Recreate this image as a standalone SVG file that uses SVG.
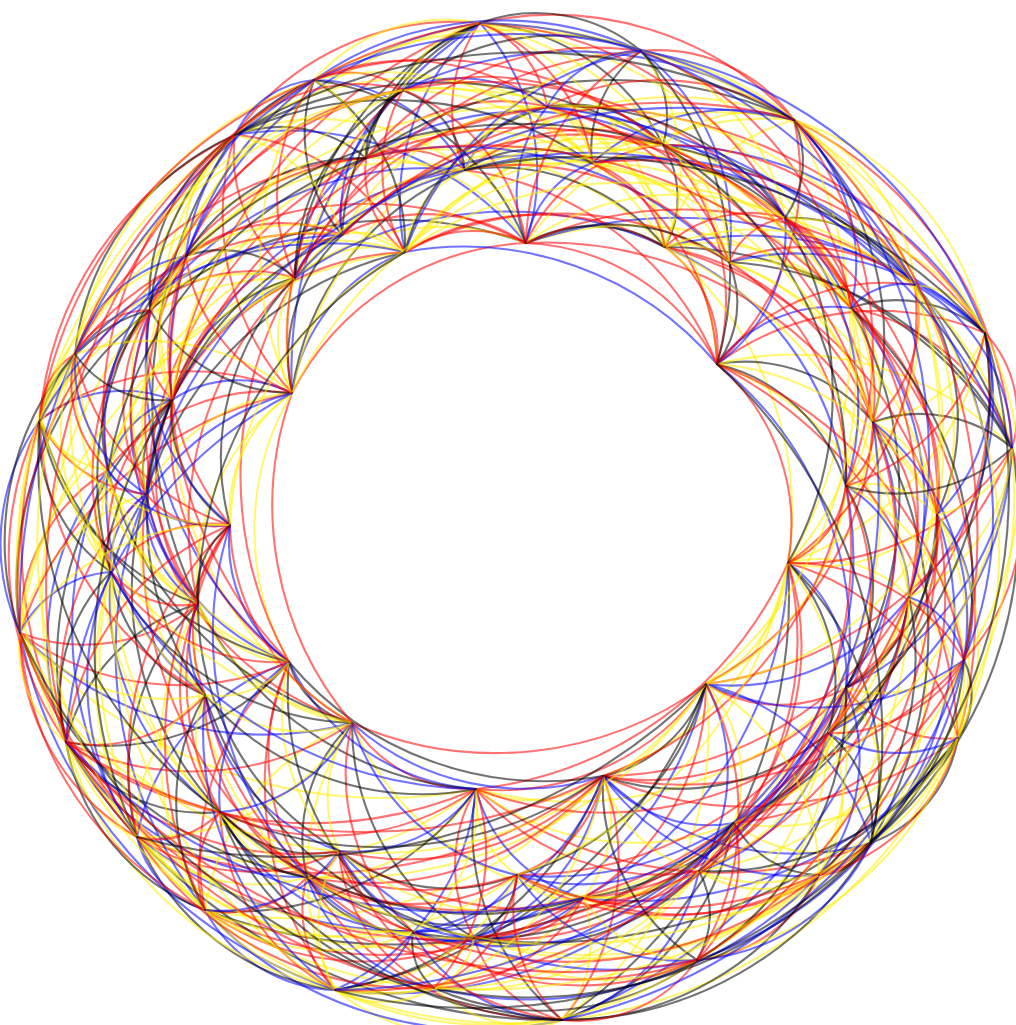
<svg xmlns="http://www.w3.org/2000/svg" width="1016" height="1025" viewBox="0 0 1016 1025">
<style>
.e path{fill:none;stroke-width:2.1;stroke-opacity:.55;vector-effect:non-scaling-stroke}
.y{stroke:#ffee00;stroke-width:2.6}.r{stroke:#ff0000}.b{stroke:#0000ff}.k{stroke:#000000}
.n circle{fill:#000;fill-opacity:.45}
</style>
<rect width="1016" height="1025" fill="#fff"/>
<g id="connectors" class="e">
<path class="y" transform="matrix(121 34 -34 121 788 563)" d="M0 0A1 1 0 0 1 1 0"/>
<path class="r" transform="matrix(170 175 -175 170 788 563)" d="M0 0A1 1 0 0 1 1 0"/>
<path class="b" transform="matrix(58 125 -125 58 788 563)" d="M0 0A1 1 0 0 1 1 0"/>
<path class="y" transform="matrix(-82 121 -121 -82 788 563)" d="M0 0A1 1 0 0 1 1 0"/>
<path class="k" transform="matrix(83 280 -280 83 788 563)" d="M0 0A1 1 0 0 1 1 0"/>
<path class="r" transform="matrix(-54 260 -260 -54 788 563)" d="M0 0A1 1 0 0 1 1 0"/>
<path class="y" transform="matrix(-185 213 -213 -185 788 563)" d="M0 0A1 1 0 0 1 1 0"/>
<path class="b" transform="matrix(-205 335 -335 -205 788 563)" d="M0 0A1 1 0 0 1 1 0"/>
<path class="r" transform="matrix(-312 226 -226 -312 788 563)" d="M0 0A1 1 0 0 1 1 0"/>
<path class="k" transform="matrix(-226 457 -457 -226 788 563)" d="M0 0A1 1 0 0 1 1 0"/>
<path class="y" transform="matrix(49 141 -141 49 909 597)" d="M0 0A1 1 0 0 1 1 0"/>
<path class="r" transform="matrix(-63 91 -91 -63 909 597)" d="M0 0A1 1 0 0 1 1 0"/>
<path class="b" transform="matrix(-203 87 -87 -203 909 597)" d="M0 0A1 1 0 0 1 1 0"/>
<path class="y" transform="matrix(-38 246 -246 -38 909 597)" d="M0 0A1 1 0 0 1 1 0"/>
<path class="k" transform="matrix(-175 226 -226 -175 909 597)" d="M0 0A1 1 0 0 1 1 0"/>
<path class="r" transform="matrix(-306 179 -179 -306 909 597)" d="M0 0A1 1 0 0 1 1 0"/>
<path class="y" transform="matrix(-326 301 -301 -326 909 597)" d="M0 0A1 1 0 0 1 1 0"/>
<path class="b" transform="matrix(-347 423 -423 -347 909 597)" d="M0 0A1 1 0 0 1 1 0"/>
<path class="r" transform="matrix(-112 -50 50 -112 958 738)" d="M0 0A1 1 0 0 1 1 0"/>
<path class="k" transform="matrix(-87 105 -105 -87 958 738)" d="M0 0A1 1 0 0 1 1 0"/>
<path class="y" transform="matrix(-224 85 -85 -224 958 738)" d="M0 0A1 1 0 0 1 1 0"/>
<path class="r" transform="matrix(-355 38 -38 -355 958 738)" d="M0 0A1 1 0 0 1 1 0"/>
<path class="b" transform="matrix(-375 160 -160 -375 958 738)" d="M0 0A1 1 0 0 1 1 0"/>
<path class="y" transform="matrix(-396 282 -282 -396 958 738)" d="M0 0A1 1 0 0 1 1 0"/>
<path class="k" transform="matrix(-484 200 -200 -484 958 738)" d="M0 0A1 1 0 0 1 1 0"/>
<path class="r" transform="matrix(-140 -4 4 -140 846 688)" d="M0 0A1 1 0 0 1 1 0"/>
<path class="y" transform="matrix(25 155 -155 25 846 688)" d="M0 0A1 1 0 0 1 1 0"/>
<path class="b" transform="matrix(-112 135 -135 -112 846 688)" d="M0 0A1 1 0 0 1 1 0"/>
<path class="r" transform="matrix(-243 88 -88 -243 846 688)" d="M0 0A1 1 0 0 1 1 0"/>
<path class="k" transform="matrix(-263 210 -210 -263 846 688)" d="M0 0A1 1 0 0 1 1 0"/>
<path class="y" transform="matrix(-370 101 -101 -370 846 688)" d="M0 0A1 1 0 0 1 1 0"/>
<path class="r" transform="matrix(-372 250 -250 -372 846 688)" d="M0 0A1 1 0 0 1 1 0"/>
<path class="b" transform="matrix(165 159 -159 165 706 684)" d="M0 0A1 1 0 0 1 1 0"/>
<path class="y" transform="matrix(28 139 -139 28 706 684)" d="M0 0A1 1 0 0 1 1 0"/>
<path class="k" transform="matrix(-103 92 -92 -103 706 684)" d="M0 0A1 1 0 0 1 1 0"/>
<path class="r" transform="matrix(-123 214 -214 -123 706 684)" d="M0 0A1 1 0 0 1 1 0"/>
<path class="y" transform="matrix(-144 336 -336 -144 706 684)" d="M0 0A1 1 0 0 1 1 0"/>
<path class="b" transform="matrix(-232 254 -254 -232 706 684)" d="M0 0A1 1 0 0 1 1 0"/>
<path class="r" transform="matrix(-230 105 -105 -230 706 684)" d="M0 0A1 1 0 0 1 1 0"/>
<path class="k" transform="matrix(-371 306 -306 -371 706 684)" d="M0 0A1 1 0 0 1 1 0"/>
<path class="y" transform="matrix(-399 193 -193 -399 706 684)" d="M0 0A1 1 0 0 1 1 0"/>
<path class="r" transform="matrix(-354 39 -39 -354 706 684)" d="M0 0A1 1 0 0 1 1 0"/>
<path class="y" transform="matrix(-137 -20 20 -137 871 843)" d="M0 0A1 1 0 0 1 1 0"/>
<path class="b" transform="matrix(-268 -67 67 -268 871 843)" d="M0 0A1 1 0 0 1 1 0"/>
<path class="r" transform="matrix(-288 55 -55 -288 871 843)" d="M0 0A1 1 0 0 1 1 0"/>
<path class="k" transform="matrix(-309 177 -177 -309 871 843)" d="M0 0A1 1 0 0 1 1 0"/>
<path class="y" transform="matrix(-397 95 -95 -397 871 843)" d="M0 0A1 1 0 0 1 1 0"/>
<path class="r" transform="matrix(-395 -54 54 -395 871 843)" d="M0 0A1 1 0 0 1 1 0"/>
<path class="b" transform="matrix(-131 -47 47 -131 734 823)" d="M0 0A1 1 0 0 1 1 0"/>
<path class="y" transform="matrix(-151 75 -75 -151 734 823)" d="M0 0A1 1 0 0 1 1 0"/>
<path class="k" transform="matrix(-172 197 -197 -172 734 823)" d="M0 0A1 1 0 0 1 1 0"/>
<path class="r" transform="matrix(-260 115 -115 -260 734 823)" d="M0 0A1 1 0 0 1 1 0"/>
<path class="y" transform="matrix(-258 -34 34 -258 734 823)" d="M0 0A1 1 0 0 1 1 0"/>
<path class="b" transform="matrix(-399 167 -167 -399 734 823)" d="M0 0A1 1 0 0 1 1 0"/>
<path class="r" transform="matrix(-427 54 -54 -427 734 823)" d="M0 0A1 1 0 0 1 1 0"/>
<path class="k" transform="matrix(-529 87 -87 -529 734 823)" d="M0 0A1 1 0 0 1 1 0"/>
<path class="y" transform="matrix(-20 122 -122 -20 603 776)" d="M0 0A1 1 0 0 1 1 0"/>
<path class="r" transform="matrix(-41 244 -244 -41 603 776)" d="M0 0A1 1 0 0 1 1 0"/>
<path class="b" transform="matrix(-129 162 -162 -129 603 776)" d="M0 0A1 1 0 0 1 1 0"/>
<path class="y" transform="matrix(-127 13 -13 -127 603 776)" d="M0 0A1 1 0 0 1 1 0"/>
<path class="k" transform="matrix(-268 214 -214 -268 603 776)" d="M0 0A1 1 0 0 1 1 0"/>
<path class="r" transform="matrix(-296 101 -101 -296 603 776)" d="M0 0A1 1 0 0 1 1 0"/>
<path class="y" transform="matrix(-398 134 -134 -398 603 776)" d="M0 0A1 1 0 0 1 1 0"/>
<path class="b" transform="matrix(-251 -53 53 -251 603 776)" d="M0 0A1 1 0 0 1 1 0"/>
<path class="r" transform="matrix(-466 61 -61 -466 603 776)" d="M0 0A1 1 0 0 1 1 0"/>
<path class="k" transform="matrix(-314 -114 114 -314 603 776)" d="M0 0A1 1 0 0 1 1 0"/>
<path class="y" transform="matrix(-21 122 -122 -21 583 898)" d="M0 0A1 1 0 0 1 1 0"/>
<path class="r" transform="matrix(-109 40 -40 -109 583 898)" d="M0 0A1 1 0 0 1 1 0"/>
<path class="b" transform="matrix(-107 -109 109 -107 583 898)" d="M0 0A1 1 0 0 1 1 0"/>
<path class="y" transform="matrix(-248 92 -92 -248 583 898)" d="M0 0A1 1 0 0 1 1 0"/>
<path class="k" transform="matrix(-276 -21 21 -276 583 898)" d="M0 0A1 1 0 0 1 1 0"/>
<path class="r" transform="matrix(-378 12 -12 -378 583 898)" d="M0 0A1 1 0 0 1 1 0"/>
<path class="y" transform="matrix(-231 -175 175 -231 583 898)" d="M0 0A1 1 0 0 1 1 0"/>
<path class="b" transform="matrix(-446 -61 61 -446 583 898)" d="M0 0A1 1 0 0 1 1 0"/>
<path class="r" transform="matrix(-88 -82 82 -88 562 1020)" d="M0 0A1 1 0 0 1 1 0"/>
<path class="k" transform="matrix(-86 -231 231 -86 562 1020)" d="M0 0A1 1 0 0 1 1 0"/>
<path class="y" transform="matrix(-227 -30 30 -227 562 1020)" d="M0 0A1 1 0 0 1 1 0"/>
<path class="r" transform="matrix(-255 -143 143 -255 562 1020)" d="M0 0A1 1 0 0 1 1 0"/>
<path class="b" transform="matrix(-357 -110 110 -357 562 1020)" d="M0 0A1 1 0 0 1 1 0"/>
<path class="y" transform="matrix(-425 -183 183 -425 562 1020)" d="M0 0A1 1 0 0 1 1 0"/>
<path class="k" transform="matrix(-496 -278 278 -496 562 1020)" d="M0 0A1 1 0 0 1 1 0"/>
<path class="r" transform="matrix(2 -149 149 2 474 938)" d="M0 0A1 1 0 0 1 1 0"/>
<path class="y" transform="matrix(-139 52 -52 -139 474 938)" d="M0 0A1 1 0 0 1 1 0"/>
<path class="b" transform="matrix(-167 -61 61 -167 474 938)" d="M0 0A1 1 0 0 1 1 0"/>
<path class="r" transform="matrix(-269 -28 28 -269 474 938)" d="M0 0A1 1 0 0 1 1 0"/>
<path class="k" transform="matrix(-122 -215 215 -122 474 938)" d="M0 0A1 1 0 0 1 1 0"/>
<path class="y" transform="matrix(-337 -101 101 -337 474 938)" d="M0 0A1 1 0 0 1 1 0"/>
<path class="r" transform="matrix(-408 -196 196 -408 474 938)" d="M0 0A1 1 0 0 1 1 0"/>
<path class="b" transform="matrix(-141 201 -201 -141 476 789)" d="M0 0A1 1 0 0 1 1 0"/>
<path class="y" transform="matrix(-169 88 -88 -169 476 789)" d="M0 0A1 1 0 0 1 1 0"/>
<path class="k" transform="matrix(-271 121 -121 -271 476 789)" d="M0 0A1 1 0 0 1 1 0"/>
<path class="r" transform="matrix(-124 -66 66 -124 476 789)" d="M0 0A1 1 0 0 1 1 0"/>
<path class="y" transform="matrix(-339 48 -48 -339 476 789)" d="M0 0A1 1 0 0 1 1 0"/>
<path class="b" transform="matrix(-187 -127 127 -187 476 789)" d="M0 0A1 1 0 0 1 1 0"/>
<path class="r" transform="matrix(-410 -47 47 -410 476 789)" d="M0 0A1 1 0 0 1 1 0"/>
<path class="k" transform="matrix(-278 -185 185 -278 476 789)" d="M0 0A1 1 0 0 1 1 0"/>
<path class="y" transform="matrix(-456 -156 156 -456 476 789)" d="M0 0A1 1 0 0 1 1 0"/>
<path class="r" transform="matrix(-28 -113 113 -28 335 990)" d="M0 0A1 1 0 0 1 1 0"/>
<path class="b" transform="matrix(-130 -80 80 -130 335 990)" d="M0 0A1 1 0 0 1 1 0"/>
<path class="y" transform="matrix(17 -267 267 17 335 990)" d="M0 0A1 1 0 0 1 1 0"/>
<path class="k" transform="matrix(-198 -153 153 -198 335 990)" d="M0 0A1 1 0 0 1 1 0"/>
<path class="r" transform="matrix(-46 -328 328 -46 335 990)" d="M0 0A1 1 0 0 1 1 0"/>
<path class="y" transform="matrix(-269 -248 248 -269 335 990)" d="M0 0A1 1 0 0 1 1 0"/>
<path class="b" transform="matrix(-315 -357 357 -315 335 990)" d="M0 0A1 1 0 0 1 1 0"/>
<path class="r" transform="matrix(-102 33 -33 -102 307 877)" d="M0 0A1 1 0 0 1 1 0"/>
<path class="k" transform="matrix(45 -154 154 45 307 877)" d="M0 0A1 1 0 0 1 1 0"/>
<path class="y" transform="matrix(-170 -40 40 -170 307 877)" d="M0 0A1 1 0 0 1 1 0"/>
<path class="r" transform="matrix(-18 -215 215 -18 307 877)" d="M0 0A1 1 0 0 1 1 0"/>
<path class="b" transform="matrix(-241 -135 135 -241 307 877)" d="M0 0A1 1 0 0 1 1 0"/>
<path class="y" transform="matrix(-109 -273 273 -109 307 877)" d="M0 0A1 1 0 0 1 1 0"/>
<path class="k" transform="matrix(-287 -244 244 -287 307 877)" d="M0 0A1 1 0 0 1 1 0"/>
<path class="r" transform="matrix(-161 -383 383 -161 307 877)" d="M0 0A1 1 0 0 1 1 0"/>
<path class="y" transform="matrix(147 -187 187 147 205 910)" d="M0 0A1 1 0 0 1 1 0"/>
<path class="b" transform="matrix(-68 -73 73 -68 205 910)" d="M0 0A1 1 0 0 1 1 0"/>
<path class="r" transform="matrix(84 -248 248 84 205 910)" d="M0 0A1 1 0 0 1 1 0"/>
<path class="k" transform="matrix(-139 -168 168 -139 205 910)" d="M0 0A1 1 0 0 1 1 0"/>
<path class="y" transform="matrix(-7 -306 306 -7 205 910)" d="M0 0A1 1 0 0 1 1 0"/>
<path class="r" transform="matrix(-185 -277 277 -185 205 910)" d="M0 0A1 1 0 0 1 1 0"/>
<path class="b" transform="matrix(-59 -416 416 -59 205 910)" d="M0 0A1 1 0 0 1 1 0"/>
<path class="y" transform="matrix(-215 114 -114 -215 352 723)" d="M0 0A1 1 0 0 1 1 0"/>
<path class="k" transform="matrix(-63 -61 61 -63 352 723)" d="M0 0A1 1 0 0 1 1 0"/>
<path class="r" transform="matrix(-286 19 -19 -286 352 723)" d="M0 0A1 1 0 0 1 1 0"/>
<path class="y" transform="matrix(-154 -119 119 -154 352 723)" d="M0 0A1 1 0 0 1 1 0"/>
<path class="b" transform="matrix(-332 -90 90 -332 352 723)" d="M0 0A1 1 0 0 1 1 0"/>
<path class="r" transform="matrix(-206 -229 229 -206 352 723)" d="M0 0A1 1 0 0 1 1 0"/>
<path class="k" transform="matrix(-244 -253 253 -244 352 723)" d="M0 0A1 1 0 0 1 1 0"/>
<path class="y" transform="matrix(-180 -323 323 -180 352 723)" d="M0 0A1 1 0 0 1 1 0"/>
<path class="r" transform="matrix(-60 -330 330 -60 352 723)" d="M0 0A1 1 0 0 1 1 0"/>
<path class="b" transform="matrix(152 -175 175 152 137 837)" d="M0 0A1 1 0 0 1 1 0"/>
<path class="y" transform="matrix(-71 -95 95 -71 137 837)" d="M0 0A1 1 0 0 1 1 0"/>
<path class="k" transform="matrix(61 -233 233 61 137 837)" d="M0 0A1 1 0 0 1 1 0"/>
<path class="r" transform="matrix(-117 -204 204 -117 137 837)" d="M0 0A1 1 0 0 1 1 0"/>
<path class="y" transform="matrix(9 -343 343 9 137 837)" d="M0 0A1 1 0 0 1 1 0"/>
<path class="b" transform="matrix(-29 -367 367 -29 137 837)" d="M0 0A1 1 0 0 1 1 0"/>
<path class="r" transform="matrix(-97 -417 417 -97 137 837)" d="M0 0A1 1 0 0 1 1 0"/>
<path class="k" transform="matrix(-223 80 -80 -223 289 662)" d="M0 0A1 1 0 0 1 1 0"/>
<path class="y" transform="matrix(-91 -58 58 -91 289 662)" d="M0 0A1 1 0 0 1 1 0"/>
<path class="r" transform="matrix(-269 -29 29 -269 289 662)" d="M0 0A1 1 0 0 1 1 0"/>
<path class="b" transform="matrix(-143 -168 168 -143 289 662)" d="M0 0A1 1 0 0 1 1 0"/>
<path class="y" transform="matrix(-181 -192 192 -181 289 662)" d="M0 0A1 1 0 0 1 1 0"/>
<path class="k" transform="matrix(-249 -242 242 -249 289 662)" d="M0 0A1 1 0 0 1 1 0"/>
<path class="r" transform="matrix(-117 -262 262 -117 289 662)" d="M0 0A1 1 0 0 1 1 0"/>
<path class="y" transform="matrix(3 -269 269 3 289 662)" d="M0 0A1 1 0 0 1 1 0"/>
<path class="b" transform="matrix(-139 -352 352 -139 289 662)" d="M0 0A1 1 0 0 1 1 0"/>
<path class="r" transform="matrix(6 -384 384 6 289 662)" d="M0 0A1 1 0 0 1 1 0"/>
<path class="k" transform="matrix(132 -138 138 132 66 742)" d="M0 0A1 1 0 0 1 1 0"/>
<path class="y" transform="matrix(-46 -109 109 -46 66 742)" d="M0 0A1 1 0 0 1 1 0"/>
<path class="r" transform="matrix(80 -248 248 80 66 742)" d="M0 0A1 1 0 0 1 1 0"/>
<path class="b" transform="matrix(42 -272 272 42 66 742)" d="M0 0A1 1 0 0 1 1 0"/>
<path class="r" transform="matrix(-26 -322 322 -26 66 742)" d="M0 0A1 1 0 0 1 1 0"/>
<path class="k" transform="matrix(106 -342 342 106 66 742)" d="M0 0A1 1 0 0 1 1 0"/>
<path class="y" transform="matrix(84 -432 432 84 66 742)" d="M0 0A1 1 0 0 1 1 0"/>
<path class="r" transform="matrix(-178 29 -29 -178 198 604)" d="M0 0A1 1 0 0 1 1 0"/>
<path class="b" transform="matrix(-52 -110 110 -52 198 604)" d="M0 0A1 1 0 0 1 1 0"/>
<path class="y" transform="matrix(-90 -134 134 -90 198 604)" d="M0 0A1 1 0 0 1 1 0"/>
<path class="k" transform="matrix(-158 -184 184 -158 198 604)" d="M0 0A1 1 0 0 1 1 0"/>
<path class="r" transform="matrix(-26 -204 204 -26 198 604)" d="M0 0A1 1 0 0 1 1 0"/>
<path class="y" transform="matrix(94 -211 211 94 198 604)" d="M0 0A1 1 0 0 1 1 0"/>
<path class="b" transform="matrix(-48 -294 294 -48 198 604)" d="M0 0A1 1 0 0 1 1 0"/>
<path class="r" transform="matrix(97 -326 326 97 198 604)" d="M0 0A1 1 0 0 1 1 0"/>
<path class="k" transform="matrix(37 -469 469 37 198 604)" d="M0 0A1 1 0 0 1 1 0"/>
<path class="y" transform="matrix(126 -139 139 126 20 633)" d="M0 0A1 1 0 0 1 1 0"/>
<path class="r" transform="matrix(88 -163 163 88 20 633)" d="M0 0A1 1 0 0 1 1 0"/>
<path class="b" transform="matrix(20 -213 213 20 20 633)" d="M0 0A1 1 0 0 1 1 0"/>
<path class="y" transform="matrix(152 -233 233 152 20 633)" d="M0 0A1 1 0 0 1 1 0"/>
<path class="k" transform="matrix(130 -323 323 130 20 633)" d="M0 0A1 1 0 0 1 1 0"/>
<path class="r" transform="matrix(272 -240 240 272 20 633)" d="M0 0A1 1 0 0 1 1 0"/>
<path class="y" transform="matrix(215 -498 498 215 20 633)" d="M0 0A1 1 0 0 1 1 0"/>
<path class="b" transform="matrix(-38 -24 24 -38 146 494)" d="M0 0A1 1 0 0 1 1 0"/>
<path class="r" transform="matrix(-106 -74 74 -106 146 494)" d="M0 0A1 1 0 0 1 1 0"/>
<path class="k" transform="matrix(26 -94 94 26 146 494)" d="M0 0A1 1 0 0 1 1 0"/>
<path class="y" transform="matrix(146 -101 101 146 146 494)" d="M0 0A1 1 0 0 1 1 0"/>
<path class="r" transform="matrix(4 -184 184 4 146 494)" d="M0 0A1 1 0 0 1 1 0"/>
<path class="b" transform="matrix(149 -216 216 149 146 494)" d="M0 0A1 1 0 0 1 1 0"/>
<path class="y" transform="matrix(89 -359 359 89 146 494)" d="M0 0A1 1 0 0 1 1 0"/>
<path class="k" transform="matrix(259 -242 242 259 146 494)" d="M0 0A1 1 0 0 1 1 0"/>
<path class="r" transform="matrix(220 -336 336 220 146 494)" d="M0 0A1 1 0 0 1 1 0"/>
<path class="y" transform="matrix(-68 -50 50 -68 108 470)" d="M0 0A1 1 0 0 1 1 0"/>
<path class="b" transform="matrix(64 -70 70 64 108 470)" d="M0 0A1 1 0 0 1 1 0"/>
<path class="r" transform="matrix(184 -77 77 184 108 470)" d="M0 0A1 1 0 0 1 1 0"/>
<path class="k" transform="matrix(42 -160 160 42 108 470)" d="M0 0A1 1 0 0 1 1 0"/>
<path class="y" transform="matrix(187 -192 192 187 108 470)" d="M0 0A1 1 0 0 1 1 0"/>
<path class="r" transform="matrix(127 -335 335 127 108 470)" d="M0 0A1 1 0 0 1 1 0"/>
<path class="y" transform="matrix(297 -218 218 297 108 470)" d="M0 0A1 1 0 0 1 1 0"/>
<path class="b" transform="matrix(132 -20 20 132 40 420)" d="M0 0A1 1 0 0 1 1 0"/>
<path class="r" transform="matrix(252 -27 27 252 40 420)" d="M0 0A1 1 0 0 1 1 0"/>
<path class="k" transform="matrix(110 -110 110 110 40 420)" d="M0 0A1 1 0 0 1 1 0"/>
<path class="y" transform="matrix(255 -142 142 255 40 420)" d="M0 0A1 1 0 0 1 1 0"/>
<path class="r" transform="matrix(195 -285 285 195 40 420)" d="M0 0A1 1 0 0 1 1 0"/>
<path class="y" transform="matrix(326 -262 262 326 40 420)" d="M0 0A1 1 0 0 1 1 0"/>
<path class="b" transform="matrix(120 -7 7 120 172 400)" d="M0 0A1 1 0 0 1 1 0"/>
<path class="r" transform="matrix(-22 -90 90 -22 172 400)" d="M0 0A1 1 0 0 1 1 0"/>
<path class="k" transform="matrix(123 -122 122 123 172 400)" d="M0 0A1 1 0 0 1 1 0"/>
<path class="y" transform="matrix(63 -265 265 63 172 400)" d="M0 0A1 1 0 0 1 1 0"/>
<path class="r" transform="matrix(233 -148 148 233 172 400)" d="M0 0A1 1 0 0 1 1 0"/>
<path class="y" transform="matrix(194 -242 242 194 172 400)" d="M0 0A1 1 0 0 1 1 0"/>
<path class="b" transform="matrix(293 -230 230 293 172 400)" d="M0 0A1 1 0 0 1 1 0"/>
<path class="r" transform="matrix(308 -377 377 308 172 400)" d="M0 0A1 1 0 0 1 1 0"/>
<path class="k" transform="matrix(-142 -83 83 -142 292 393)" d="M0 0A1 1 0 0 1 1 0"/>
<path class="y" transform="matrix(3 -115 115 3 292 393)" d="M0 0A1 1 0 0 1 1 0"/>
<path class="r" transform="matrix(-57 -258 258 -57 292 393)" d="M0 0A1 1 0 0 1 1 0"/>
<path class="b" transform="matrix(113 -141 141 113 292 393)" d="M0 0A1 1 0 0 1 1 0"/>
<path class="y" transform="matrix(74 -235 235 74 292 393)" d="M0 0A1 1 0 0 1 1 0"/>
<path class="k" transform="matrix(173 -223 223 173 292 393)" d="M0 0A1 1 0 0 1 1 0"/>
<path class="r" transform="matrix(234 -150 150 234 292 393)" d="M0 0A1 1 0 0 1 1 0"/>
<path class="y" transform="matrix(255 -286 286 255 292 393)" d="M0 0A1 1 0 0 1 1 0"/>
<path class="b" transform="matrix(188 -370 370 188 292 393)" d="M0 0A1 1 0 0 1 1 0"/>
<path class="r" transform="matrix(145 -32 32 145 150 310)" d="M0 0A1 1 0 0 1 1 0"/>
<path class="k" transform="matrix(85 -175 175 85 150 310)" d="M0 0A1 1 0 0 1 1 0"/>
<path class="y" transform="matrix(255 -58 58 255 150 310)" d="M0 0A1 1 0 0 1 1 0"/>
<path class="r" transform="matrix(216 -152 152 216 150 310)" d="M0 0A1 1 0 0 1 1 0"/>
<path class="b" transform="matrix(315 -140 140 315 150 310)" d="M0 0A1 1 0 0 1 1 0"/>
<path class="y" transform="matrix(330 -287 287 330 150 310)" d="M0 0A1 1 0 0 1 1 0"/>
<path class="k" transform="matrix(376 -67 67 376 150 310)" d="M0 0A1 1 0 0 1 1 0"/>
<path class="r" transform="matrix(-60 -143 143 -60 295 278)" d="M0 0A1 1 0 0 1 1 0"/>
<path class="y" transform="matrix(110 -26 26 110 295 278)" d="M0 0A1 1 0 0 1 1 0"/>
<path class="b" transform="matrix(71 -120 120 71 295 278)" d="M0 0A1 1 0 0 1 1 0"/>
<path class="r" transform="matrix(170 -108 108 170 295 278)" d="M0 0A1 1 0 0 1 1 0"/>
<path class="k" transform="matrix(185 -255 255 185 295 278)" d="M0 0A1 1 0 0 1 1 0"/>
<path class="y" transform="matrix(231 -35 35 231 295 278)" d="M0 0A1 1 0 0 1 1 0"/>
<path class="r" transform="matrix(252 -171 171 252 295 278)" d="M0 0A1 1 0 0 1 1 0"/>
<path class="y" transform="matrix(368 -133 133 368 295 278)" d="M0 0A1 1 0 0 1 1 0"/>
<path class="b" transform="matrix(370 -31 31 370 295 278)" d="M0 0A1 1 0 0 1 1 0"/>
<path class="r" transform="matrix(170 117 -117 170 235 135)" d="M0 0A1 1 0 0 1 1 0"/>
<path class="k" transform="matrix(131 23 -23 131 235 135)" d="M0 0A1 1 0 0 1 1 0"/>
<path class="y" transform="matrix(230 35 -35 230 235 135)" d="M0 0A1 1 0 0 1 1 0"/>
<path class="r" transform="matrix(245 -112 112 245 235 135)" d="M0 0A1 1 0 0 1 1 0"/>
<path class="b" transform="matrix(291 108 -108 291 235 135)" d="M0 0A1 1 0 0 1 1 0"/>
<path class="y" transform="matrix(312 -28 28 312 235 135)" d="M0 0A1 1 0 0 1 1 0"/>
<path class="k" transform="matrix(428 10 -10 428 235 135)" d="M0 0A1 1 0 0 1 1 0"/>
<path class="r" transform="matrix(-39 -94 94 -39 405 252)" d="M0 0A1 1 0 0 1 1 0"/>
<path class="y" transform="matrix(60 -82 82 60 405 252)" d="M0 0A1 1 0 0 1 1 0"/>
<path class="b" transform="matrix(75 -229 229 75 405 252)" d="M0 0A1 1 0 0 1 1 0"/>
<path class="r" transform="matrix(121 -9 9 121 405 252)" d="M0 0A1 1 0 0 1 1 0"/>
<path class="k" transform="matrix(142 -145 145 142 405 252)" d="M0 0A1 1 0 0 1 1 0"/>
<path class="y" transform="matrix(258 -107 107 258 405 252)" d="M0 0A1 1 0 0 1 1 0"/>
<path class="r" transform="matrix(260 -5 5 260 405 252)" d="M0 0A1 1 0 0 1 1 0"/>
<path class="y" transform="matrix(389 -132 132 389 405 252)" d="M0 0A1 1 0 0 1 1 0"/>
<path class="b" transform="matrix(312 112 -112 312 405 252)" d="M0 0A1 1 0 0 1 1 0"/>
<path class="r" transform="matrix(99 12 -12 99 366 158)" d="M0 0A1 1 0 0 1 1 0"/>
<path class="k" transform="matrix(114 -135 135 114 366 158)" d="M0 0A1 1 0 0 1 1 0"/>
<path class="y" transform="matrix(160 85 -85 160 366 158)" d="M0 0A1 1 0 0 1 1 0"/>
<path class="r" transform="matrix(181 -51 51 181 366 158)" d="M0 0A1 1 0 0 1 1 0"/>
<path class="b" transform="matrix(297 -13 13 297 366 158)" d="M0 0A1 1 0 0 1 1 0"/>
<path class="y" transform="matrix(299 89 -89 299 366 158)" d="M0 0A1 1 0 0 1 1 0"/>
<path class="k" transform="matrix(428 -38 38 428 366 158)" d="M0 0A1 1 0 0 1 1 0"/>
<path class="r" transform="matrix(15 -147 147 15 465 170)" d="M0 0A1 1 0 0 1 1 0"/>
<path class="y" transform="matrix(61 73 -73 61 465 170)" d="M0 0A1 1 0 0 1 1 0"/>
<path class="b" transform="matrix(82 -63 63 82 465 170)" d="M0 0A1 1 0 0 1 1 0"/>
<path class="r" transform="matrix(198 -25 25 198 465 170)" d="M0 0A1 1 0 0 1 1 0"/>
<path class="k" transform="matrix(200 77 -77 200 465 170)" d="M0 0A1 1 0 0 1 1 0"/>
<path class="y" transform="matrix(329 -50 50 329 465 170)" d="M0 0A1 1 0 0 1 1 0"/>
<path class="r" transform="matrix(252 194 -194 252 465 170)" d="M0 0A1 1 0 0 1 1 0"/>
<path class="y" transform="matrix(386 138 -138 386 465 170)" d="M0 0A1 1 0 0 1 1 0"/>
<path class="b" transform="matrix(46 220 -220 46 480 23)" d="M0 0A1 1 0 0 1 1 0"/>
<path class="r" transform="matrix(67 84 -84 67 480 23)" d="M0 0A1 1 0 0 1 1 0"/>
<path class="k" transform="matrix(183 122 -122 183 480 23)" d="M0 0A1 1 0 0 1 1 0"/>
<path class="y" transform="matrix(185 224 -224 185 480 23)" d="M0 0A1 1 0 0 1 1 0"/>
<path class="r" transform="matrix(314 97 -97 314 480 23)" d="M0 0A1 1 0 0 1 1 0"/>
<path class="y" transform="matrix(371 285 -285 371 480 23)" d="M0 0A1 1 0 0 1 1 0"/>
<path class="b" transform="matrix(21 -136 136 21 526 243)" d="M0 0A1 1 0 0 1 1 0"/>
<path class="r" transform="matrix(137 -98 98 137 526 243)" d="M0 0A1 1 0 0 1 1 0"/>
<path class="k" transform="matrix(139 4 -4 139 526 243)" d="M0 0A1 1 0 0 1 1 0"/>
<path class="y" transform="matrix(268 -123 123 268 526 243)" d="M0 0A1 1 0 0 1 1 0"/>
<path class="r" transform="matrix(191 121 -121 191 526 243)" d="M0 0A1 1 0 0 1 1 0"/>
<path class="y" transform="matrix(325 65 -65 325 526 243)" d="M0 0A1 1 0 0 1 1 0"/>
<path class="b" transform="matrix(459 90 -90 459 526 243)" d="M0 0A1 1 0 0 1 1 0"/>
<path class="r" transform="matrix(347 179 -179 347 526 243)" d="M0 0A1 1 0 0 1 1 0"/>
<path class="k" transform="matrix(116 38 -38 116 547 107)" d="M0 0A1 1 0 0 1 1 0"/>
<path class="y" transform="matrix(118 140 -140 118 547 107)" d="M0 0A1 1 0 0 1 1 0"/>
<path class="r" transform="matrix(247 13 -13 247 547 107)" d="M0 0A1 1 0 0 1 1 0"/>
<path class="y" transform="matrix(170 257 -257 170 547 107)" d="M0 0A1 1 0 0 1 1 0"/>
<path class="b" transform="matrix(304 201 -201 304 547 107)" d="M0 0A1 1 0 0 1 1 0"/>
<path class="r" transform="matrix(438 226 -226 438 547 107)" d="M0 0A1 1 0 0 1 1 0"/>
<path class="k" transform="matrix(2 102 -102 2 663 145)" d="M0 0A1 1 0 0 1 1 0"/>
<path class="y" transform="matrix(131 -25 25 131 663 145)" d="M0 0A1 1 0 0 1 1 0"/>
<path class="r" transform="matrix(54 219 -219 54 663 145)" d="M0 0A1 1 0 0 1 1 0"/>
<path class="y" transform="matrix(188 163 -163 188 663 145)" d="M0 0A1 1 0 0 1 1 0"/>
<path class="b" transform="matrix(322 188 -188 322 663 145)" d="M0 0A1 1 0 0 1 1 0"/>
<path class="r" transform="matrix(210 277 -277 210 663 145)" d="M0 0A1 1 0 0 1 1 0"/>
<path class="k" transform="matrix(349 303 -303 349 663 145)" d="M0 0A1 1 0 0 1 1 0"/>
<path class="y" transform="matrix(129 -127 127 129 665 247)" d="M0 0A1 1 0 0 1 1 0"/>
<path class="r" transform="matrix(52 117 -117 52 665 247)" d="M0 0A1 1 0 0 1 1 0"/>
<path class="y" transform="matrix(186 61 -61 186 665 247)" d="M0 0A1 1 0 0 1 1 0"/>
<path class="b" transform="matrix(320 86 -86 320 665 247)" d="M0 0A1 1 0 0 1 1 0"/>
<path class="r" transform="matrix(208 175 -175 208 665 247)" d="M0 0A1 1 0 0 1 1 0"/>
<path class="k" transform="matrix(347 201 -201 347 665 247)" d="M0 0A1 1 0 0 1 1 0"/>
<path class="y" transform="matrix(123 316 -316 123 665 247)" d="M0 0A1 1 0 0 1 1 0"/>
<path class="r" transform="matrix(-77 244 -244 -77 794 120)" d="M0 0A1 1 0 0 1 1 0"/>
<path class="b" transform="matrix(57 188 -188 57 794 120)" d="M0 0A1 1 0 0 1 1 0"/>
<path class="y" transform="matrix(191 213 -213 191 794 120)" d="M0 0A1 1 0 0 1 1 0"/>
<path class="k" transform="matrix(79 302 -302 79 794 120)" d="M0 0A1 1 0 0 1 1 0"/>
<path class="r" transform="matrix(218 328 -328 218 794 120)" d="M0 0A1 1 0 0 1 1 0"/>
<path class="y" transform="matrix(-6 443 -443 -6 794 120)" d="M0 0A1 1 0 0 1 1 0"/>
<path class="b" transform="matrix(134 -56 56 134 717 364)" d="M0 0A1 1 0 0 1 1 0"/>
<path class="r" transform="matrix(268 -31 31 268 717 364)" d="M0 0A1 1 0 0 1 1 0"/>
<path class="k" transform="matrix(156 58 -58 156 717 364)" d="M0 0A1 1 0 0 1 1 0"/>
<path class="y" transform="matrix(295 84 -84 295 717 364)" d="M0 0A1 1 0 0 1 1 0"/>
<path class="r" transform="matrix(71 199 -199 71 717 364)" d="M0 0A1 1 0 0 1 1 0"/>
<path class="y" transform="matrix(192 233 -233 192 717 364)" d="M0 0A1 1 0 0 1 1 0"/>
<path class="b" transform="matrix(129 324 -324 129 717 364)" d="M0 0A1 1 0 0 1 1 0"/>
<path class="r" transform="matrix(241 374 -374 241 717 364)" d="M0 0A1 1 0 0 1 1 0"/>
<path class="k" transform="matrix(134 25 -25 134 851 308)" d="M0 0A1 1 0 0 1 1 0"/>
<path class="y" transform="matrix(22 114 -114 22 851 308)" d="M0 0A1 1 0 0 1 1 0"/>
<path class="r" transform="matrix(161 140 -140 161 851 308)" d="M0 0A1 1 0 0 1 1 0"/>
<path class="y" transform="matrix(-63 255 -255 -63 851 308)" d="M0 0A1 1 0 0 1 1 0"/>
<path class="b" transform="matrix(58 289 -289 58 851 308)" d="M0 0A1 1 0 0 1 1 0"/>
<path class="r" transform="matrix(107 430 -430 107 851 308)" d="M0 0A1 1 0 0 1 1 0"/>
<path class="k" transform="matrix(-5 380 -380 -5 851 308)" d="M0 0A1 1 0 0 1 1 0"/>
<path class="y" transform="matrix(-112 89 -89 -112 985 333)" d="M0 0A1 1 0 0 1 1 0"/>
<path class="r" transform="matrix(27 115 -115 27 985 333)" d="M0 0A1 1 0 0 1 1 0"/>
<path class="y" transform="matrix(-197 230 -230 -197 985 333)" d="M0 0A1 1 0 0 1 1 0"/>
<path class="b" transform="matrix(-76 264 -264 -76 985 333)" d="M0 0A1 1 0 0 1 1 0"/>
<path class="r" transform="matrix(-139 355 -355 -139 985 333)" d="M0 0A1 1 0 0 1 1 0"/>
<path class="k" transform="matrix(139 26 -26 139 873 422)" d="M0 0A1 1 0 0 1 1 0"/>
<path class="y" transform="matrix(-85 141 -141 -85 873 422)" d="M0 0A1 1 0 0 1 1 0"/>
<path class="r" transform="matrix(36 175 -175 36 873 422)" d="M0 0A1 1 0 0 1 1 0"/>
<path class="y" transform="matrix(85 316 -316 85 873 422)" d="M0 0A1 1 0 0 1 1 0"/>
<path class="b" transform="matrix(-27 266 -266 -27 873 422)" d="M0 0A1 1 0 0 1 1 0"/>
<path class="r" transform="matrix(-167 262 -262 -167 873 422)" d="M0 0A1 1 0 0 1 1 0"/>
<path class="k" transform="matrix(-2 421 -421 -2 873 422)" d="M0 0A1 1 0 0 1 1 0"/>
<path class="y" transform="matrix(-139 401 -401 -139 873 422)" d="M0 0A1 1 0 0 1 1 0"/>
<path class="r" transform="matrix(-224 115 -115 -224 1012 448)" d="M0 0A1 1 0 0 1 1 0"/>
<path class="y" transform="matrix(-103 149 -149 -103 1012 448)" d="M0 0A1 1 0 0 1 1 0"/>
<path class="b" transform="matrix(-166 240 -240 -166 1012 448)" d="M0 0A1 1 0 0 1 1 0"/>
<path class="r" transform="matrix(-306 236 -236 -306 1012 448)" d="M0 0A1 1 0 0 1 1 0"/>
<path class="k" transform="matrix(-141 395 -395 -141 1012 448)" d="M0 0A1 1 0 0 1 1 0"/>
<path class="y" transform="matrix(-149 48 -48 -149 937 515)" d="M0 0A1 1 0 0 1 1 0"/>
<path class="r" transform="matrix(-28 82 -82 -28 937 515)" d="M0 0A1 1 0 0 1 1 0"/>
<path class="b" transform="matrix(27 145 -145 27 937 515)" d="M0 0A1 1 0 0 1 1 0"/>
<path class="y" transform="matrix(21 223 -223 21 937 515)" d="M0 0A1 1 0 0 1 1 0"/>
<path class="k" transform="matrix(-91 173 -173 -91 937 515)" d="M0 0A1 1 0 0 1 1 0"/>
<path class="r" transform="matrix(-109 218 -218 -109 937 515)" d="M0 0A1 1 0 0 1 1 0"/>
<path class="y" transform="matrix(-231 169 -169 -231 937 515)" d="M0 0A1 1 0 0 1 1 0"/>
<path class="b" transform="matrix(-66 328 -328 -66 937 515)" d="M0 0A1 1 0 0 1 1 0"/>
<path class="r" transform="matrix(-118 360 -360 -118 937 515)" d="M0 0A1 1 0 0 1 1 0"/>
<path class="k" transform="matrix(-203 308 -308 -203 937 515)" d="M0 0A1 1 0 0 1 1 0"/>
<path class="y" transform="matrix(91 29 -29 91 846 486)" d="M0 0A1 1 0 0 1 1 0"/>
<path class="r" transform="matrix(-58 77 -77 -58 846 486)" d="M0 0A1 1 0 0 1 1 0"/>
<path class="b" transform="matrix(63 111 -111 63 846 486)" d="M0 0A1 1 0 0 1 1 0"/>
<path class="y" transform="matrix(118 174 -174 118 846 486)" d="M0 0A1 1 0 0 1 1 0"/>
<path class="k" transform="matrix(0 202 -202 0 846 486)" d="M0 0A1 1 0 0 1 1 0"/>
<path class="r" transform="matrix(-18 247 -247 -18 846 486)" d="M0 0A1 1 0 0 1 1 0"/>
<path class="y" transform="matrix(-140 198 -198 -140 846 486)" d="M0 0A1 1 0 0 1 1 0"/>
<path class="b" transform="matrix(-112 337 -337 -112 846 486)" d="M0 0A1 1 0 0 1 1 0"/>
<path class="r" transform="matrix(-243 290 -290 -243 846 486)" d="M0 0A1 1 0 0 1 1 0"/>
<path class="k" transform="matrix(-6 78 -78 -6 964 660)" d="M0 0A1 1 0 0 1 1 0"/>
<path class="y" transform="matrix(-118 28 -28 -118 964 660)" d="M0 0A1 1 0 0 1 1 0"/>
<path class="r" transform="matrix(-136 73 -73 -136 964 660)" d="M0 0A1 1 0 0 1 1 0"/>
<path class="b" transform="matrix(-258 24 -24 -258 964 660)" d="M0 0A1 1 0 0 1 1 0"/>
<path class="y" transform="matrix(-93 183 -183 -93 964 660)" d="M0 0A1 1 0 0 1 1 0"/>
<path class="k" transform="matrix(-145 215 -215 -145 964 660)" d="M0 0A1 1 0 0 1 1 0"/>
<path class="r" transform="matrix(-230 163 -163 -230 964 660)" d="M0 0A1 1 0 0 1 1 0"/>
<path class="y" transform="matrix(-265 211 -211 -265 964 660)" d="M0 0A1 1 0 0 1 1 0"/>
<path class="b" transform="matrix(-267 300 -300 -267 964 660)" d="M0 0A1 1 0 0 1 1 0"/>
<path class="r" transform="matrix(-361 116 -116 -361 964 660)" d="M0 0A1 1 0 0 1 1 0"/>
<path class="k" transform="matrix(43 110 -110 43 828 733)" d="M0 0A1 1 0 0 1 1 0"/>
<path class="y" transform="matrix(-9 142 -142 -9 828 733)" d="M0 0A1 1 0 0 1 1 0"/>
<path class="r" transform="matrix(-94 90 -90 -94 828 733)" d="M0 0A1 1 0 0 1 1 0"/>
<path class="b" transform="matrix(-129 138 -138 -129 828 733)" d="M0 0A1 1 0 0 1 1 0"/>
<path class="y" transform="matrix(-131 227 -227 -131 828 733)" d="M0 0A1 1 0 0 1 1 0"/>
<path class="k" transform="matrix(-225 43 -43 -225 828 733)" d="M0 0A1 1 0 0 1 1 0"/>
<path class="r" transform="matrix(-245 165 -165 -245 828 733)" d="M0 0A1 1 0 0 1 1 0"/>
<path class="y" transform="matrix(-266 287 -287 -266 828 733)" d="M0 0A1 1 0 0 1 1 0"/>
<path class="b" transform="matrix(-311 142 -142 -311 828 733)" d="M0 0A1 1 0 0 1 1 0"/>
<path class="r" transform="matrix(-352 56 -56 -352 828 733)" d="M0 0A1 1 0 0 1 1 0"/>
<path class="k" transform="matrix(-85 -52 52 -85 819 875)" d="M0 0A1 1 0 0 1 1 0"/>
<path class="y" transform="matrix(-120 -4 4 -120 819 875)" d="M0 0A1 1 0 0 1 1 0"/>
<path class="r" transform="matrix(-122 85 -85 -122 819 875)" d="M0 0A1 1 0 0 1 1 0"/>
<path class="b" transform="matrix(-216 -99 99 -216 819 875)" d="M0 0A1 1 0 0 1 1 0"/>
<path class="y" transform="matrix(-236 23 -23 -236 819 875)" d="M0 0A1 1 0 0 1 1 0"/>
<path class="k" transform="matrix(-257 145 -145 -257 819 875)" d="M0 0A1 1 0 0 1 1 0"/>
<path class="r" transform="matrix(-302 0 0 -302 819 875)" d="M0 0A1 1 0 0 1 1 0"/>
<path class="y" transform="matrix(-345 63 -63 -345 819 875)" d="M0 0A1 1 0 0 1 1 0"/>
<path class="b" transform="matrix(-385 113 -113 -385 819 875)" d="M0 0A1 1 0 0 1 1 0"/>
<path class="r" transform="matrix(-406 57 -57 -406 819 875)" d="M0 0A1 1 0 0 1 1 0"/>
<path class="k" transform="matrix(-2 89 -89 -2 699 871)" d="M0 0A1 1 0 0 1 1 0"/>
<path class="y" transform="matrix(-96 -95 95 -96 699 871)" d="M0 0A1 1 0 0 1 1 0"/>
<path class="r" transform="matrix(-116 27 -27 -116 699 871)" d="M0 0A1 1 0 0 1 1 0"/>
<path class="b" transform="matrix(-137 149 -149 -137 699 871)" d="M0 0A1 1 0 0 1 1 0"/>
<path class="y" transform="matrix(-182 4 -4 -182 699 871)" d="M0 0A1 1 0 0 1 1 0"/>
<path class="k" transform="matrix(-225 67 -67 -225 699 871)" d="M0 0A1 1 0 0 1 1 0"/>
<path class="r" transform="matrix(-223 -82 82 -223 699 871)" d="M0 0A1 1 0 0 1 1 0"/>
<path class="y" transform="matrix(-265 117 -117 -265 699 871)" d="M0 0A1 1 0 0 1 1 0"/>
<path class="b" transform="matrix(-286 61 -61 -286 699 871)" d="M0 0A1 1 0 0 1 1 0"/>
<path class="r" transform="matrix(-360 -20 20 -360 699 871)" d="M0 0A1 1 0 0 1 1 0"/>
<path class="k" transform="matrix(-94 -184 184 -94 697 960)" d="M0 0A1 1 0 0 1 1 0"/>
<path class="y" transform="matrix(-114 -62 62 -114 697 960)" d="M0 0A1 1 0 0 1 1 0"/>
<path class="r" transform="matrix(-135 60 -60 -135 697 960)" d="M0 0A1 1 0 0 1 1 0"/>
<path class="b" transform="matrix(-180 -85 85 -180 697 960)" d="M0 0A1 1 0 0 1 1 0"/>
<path class="y" transform="matrix(-223 -22 22 -223 697 960)" d="M0 0A1 1 0 0 1 1 0"/>
<path class="k" transform="matrix(-263 28 -28 -263 697 960)" d="M0 0A1 1 0 0 1 1 0"/>
<path class="r" transform="matrix(-284 -28 28 -284 697 960)" d="M0 0A1 1 0 0 1 1 0"/>
<path class="y" transform="matrix(-362 30 -30 -362 697 960)" d="M0 0A1 1 0 0 1 1 0"/>
<path class="b" transform="matrix(-358 -109 109 -358 697 960)" d="M0 0A1 1 0 0 1 1 0"/>
<path class="r" transform="matrix(-390 -83 83 -390 697 960)" d="M0 0A1 1 0 0 1 1 0"/>
<path class="k" transform="matrix(-43 63 -63 -43 517 875)" d="M0 0A1 1 0 0 1 1 0"/>
<path class="y" transform="matrix(-41 -86 86 -41 517 875)" d="M0 0A1 1 0 0 1 1 0"/>
<path class="r" transform="matrix(-83 113 -113 -83 517 875)" d="M0 0A1 1 0 0 1 1 0"/>
<path class="b" transform="matrix(-104 57 -57 -104 517 875)" d="M0 0A1 1 0 0 1 1 0"/>
<path class="y" transform="matrix(-182 115 -115 -182 517 875)" d="M0 0A1 1 0 0 1 1 0"/>
<path class="k" transform="matrix(-178 -24 24 -178 517 875)" d="M0 0A1 1 0 0 1 1 0"/>
<path class="r" transform="matrix(-210 2 -2 -210 517 875)" d="M0 0A1 1 0 0 1 1 0"/>
<path class="y" transform="matrix(-312 35 -35 -312 517 875)" d="M0 0A1 1 0 0 1 1 0"/>
<path class="b" transform="matrix(-165 -152 152 -165 517 875)" d="M0 0A1 1 0 0 1 1 0"/>
<path class="r" transform="matrix(-297 -63 63 -297 517 875)" d="M0 0A1 1 0 0 1 1 0"/>
<path class="k" transform="matrix(-21 -56 56 -21 434 988)" d="M0 0A1 1 0 0 1 1 0"/>
<path class="y" transform="matrix(-99 2 -2 -99 434 988)" d="M0 0A1 1 0 0 1 1 0"/>
<path class="r" transform="matrix(-95 -137 137 -95 434 988)" d="M0 0A1 1 0 0 1 1 0"/>
<path class="b" transform="matrix(-127 -111 111 -127 434 988)" d="M0 0A1 1 0 0 1 1 0"/>
<path class="y" transform="matrix(-229 -78 78 -229 434 988)" d="M0 0A1 1 0 0 1 1 0"/>
<path class="k" transform="matrix(-214 -176 176 -214 434 988)" d="M0 0A1 1 0 0 1 1 0"/>
<path class="r" transform="matrix(-297 -151 151 -297 434 988)" d="M0 0A1 1 0 0 1 1 0"/>
<path class="y" transform="matrix(-368 -246 246 -368 434 988)" d="M0 0A1 1 0 0 1 1 0"/>
<path class="b" transform="matrix(-78 58 -58 -78 413 932)" d="M0 0A1 1 0 0 1 1 0"/>
<path class="r" transform="matrix(-74 -81 81 -74 413 932)" d="M0 0A1 1 0 0 1 1 0"/>
<path class="k" transform="matrix(-106 -55 55 -106 413 932)" d="M0 0A1 1 0 0 1 1 0"/>
<path class="y" transform="matrix(-208 -22 22 -208 413 932)" d="M0 0A1 1 0 0 1 1 0"/>
<path class="r" transform="matrix(-61 -209 209 -61 413 932)" d="M0 0A1 1 0 0 1 1 0"/>
<path class="b" transform="matrix(-193 -120 120 -193 413 932)" d="M0 0A1 1 0 0 1 1 0"/>
<path class="y" transform="matrix(-276 -95 95 -276 413 932)" d="M0 0A1 1 0 0 1 1 0"/>
<path class="k" transform="matrix(-124 -270 270 -124 413 932)" d="M0 0A1 1 0 0 1 1 0"/>
<path class="r" transform="matrix(-208 -237 237 -208 413 932)" d="M0 0A1 1 0 0 1 1 0"/>
<path class="y" transform="matrix(-347 -190 190 -347 413 932)" d="M0 0A1 1 0 0 1 1 0"/>
<path class="r" transform="matrix(-32 26 -26 -32 339 851)" d="M0 0A1 1 0 0 1 1 0"/>
<path class="b" transform="matrix(-134 59 -59 -134 339 851)" d="M0 0A1 1 0 0 1 1 0"/>
<path class="y" transform="matrix(13 -128 128 13 339 851)" d="M0 0A1 1 0 0 1 1 0"/>
<path class="k" transform="matrix(-119 -39 39 -119 339 851)" d="M0 0A1 1 0 0 1 1 0"/>
<path class="r" transform="matrix(-202 -14 14 -202 339 851)" d="M0 0A1 1 0 0 1 1 0"/>
<path class="y" transform="matrix(-50 -189 189 -50 339 851)" d="M0 0A1 1 0 0 1 1 0"/>
<path class="b" transform="matrix(-134 -156 156 -134 339 851)" d="M0 0A1 1 0 0 1 1 0"/>
<path class="r" transform="matrix(-273 -109 109 -273 339 851)" d="M0 0A1 1 0 0 1 1 0"/>
<path class="k" transform="matrix(-141 -247 247 -141 339 851)" d="M0 0A1 1 0 0 1 1 0"/>
<path class="y" transform="matrix(-319 -218 218 -319 339 851)" d="M0 0A1 1 0 0 1 1 0"/>
<path class="r" transform="matrix(-83 25 -25 -83 220 812)" d="M0 0A1 1 0 0 1 1 0"/>
<path class="b" transform="matrix(69 -150 150 69 220 812)" d="M0 0A1 1 0 0 1 1 0"/>
<path class="y" transform="matrix(-15 -117 117 -15 220 812)" d="M0 0A1 1 0 0 1 1 0"/>
<path class="k" transform="matrix(-154 -70 70 -154 220 812)" d="M0 0A1 1 0 0 1 1 0"/>
<path class="r" transform="matrix(-22 -208 208 -22 220 812)" d="M0 0A1 1 0 0 1 1 0"/>
<path class="y" transform="matrix(-200 -179 179 -200 220 812)" d="M0 0A1 1 0 0 1 1 0"/>
<path class="b" transform="matrix(-109 -240 240 -109 220 812)" d="M0 0A1 1 0 0 1 1 0"/>
<path class="r" transform="matrix(10 -287 287 10 220 812)" d="M0 0A1 1 0 0 1 1 0"/>
<path class="k" transform="matrix(-74 -318 318 -74 220 812)" d="M0 0A1 1 0 0 1 1 0"/>
<path class="y" transform="matrix(-112 -342 342 -112 220 812)" d="M0 0A1 1 0 0 1 1 0"/>
<path class="r" transform="matrix(-139 47 -47 -139 205 695)" d="M0 0A1 1 0 0 1 1 0"/>
<path class="b" transform="matrix(-7 -91 91 -7 205 695)" d="M0 0A1 1 0 0 1 1 0"/>
<path class="y" transform="matrix(-185 -62 62 -185 205 695)" d="M0 0A1 1 0 0 1 1 0"/>
<path class="k" transform="matrix(-94 -123 123 -94 205 695)" d="M0 0A1 1 0 0 1 1 0"/>
<path class="r" transform="matrix(25 -170 170 25 205 695)" d="M0 0A1 1 0 0 1 1 0"/>
<path class="y" transform="matrix(-59 -201 201 -59 205 695)" d="M0 0A1 1 0 0 1 1 0"/>
<path class="b" transform="matrix(-97 -225 225 -97 205 695)" d="M0 0A1 1 0 0 1 1 0"/>
<path class="r" transform="matrix(-165 -275 275 -165 205 695)" d="M0 0A1 1 0 0 1 1 0"/>
<path class="k" transform="matrix(-33 -295 295 -33 205 695)" d="M0 0A1 1 0 0 1 1 0"/>
<path class="y" transform="matrix(-130 -341 341 -130 205 695)" d="M0 0A1 1 0 0 1 1 0"/>
<path class="r" transform="matrix(119 -47 47 119 111 572)" d="M0 0A1 1 0 0 1 1 0"/>
<path class="b" transform="matrix(35 -78 78 35 111 572)" d="M0 0A1 1 0 0 1 1 0"/>
<path class="y" transform="matrix(-3 -102 102 -3 111 572)" d="M0 0A1 1 0 0 1 1 0"/>
<path class="k" transform="matrix(-71 -152 152 -71 111 572)" d="M0 0A1 1 0 0 1 1 0"/>
<path class="r" transform="matrix(61 -172 172 61 111 572)" d="M0 0A1 1 0 0 1 1 0"/>
<path class="y" transform="matrix(-36 -218 218 -36 111 572)" d="M0 0A1 1 0 0 1 1 0"/>
<path class="b" transform="matrix(181 -179 179 181 111 572)" d="M0 0A1 1 0 0 1 1 0"/>
<path class="r" transform="matrix(39 -262 262 39 111 572)" d="M0 0A1 1 0 0 1 1 0"/>
<path class="k" transform="matrix(75 -316 316 75 111 572)" d="M0 0A1 1 0 0 1 1 0"/>
<path class="y" transform="matrix(184 -294 294 184 111 572)" d="M0 0A1 1 0 0 1 1 0"/>
<path class="r" transform="matrix(-84 -31 31 -84 230 525)" d="M0 0A1 1 0 0 1 1 0"/>
<path class="b" transform="matrix(-122 -55 55 -122 230 525)" d="M0 0A1 1 0 0 1 1 0"/>
<path class="y" transform="matrix(-190 -105 105 -190 230 525)" d="M0 0A1 1 0 0 1 1 0"/>
<path class="k" transform="matrix(-58 -125 125 -58 230 525)" d="M0 0A1 1 0 0 1 1 0"/>
<path class="r" transform="matrix(-155 -171 171 -155 230 525)" d="M0 0A1 1 0 0 1 1 0"/>
<path class="y" transform="matrix(62 -132 132 62 230 525)" d="M0 0A1 1 0 0 1 1 0"/>
<path class="b" transform="matrix(-80 -215 215 -80 230 525)" d="M0 0A1 1 0 0 1 1 0"/>
<path class="r" transform="matrix(-44 -269 269 -44 230 525)" d="M0 0A1 1 0 0 1 1 0"/>
<path class="k" transform="matrix(65 -247 247 65 230 525)" d="M0 0A1 1 0 0 1 1 0"/>
<path class="y" transform="matrix(217 39 -39 217 75 354)" d="M0 0A1 1 0 0 1 1 0"/>
<path class="r" transform="matrix(75 -44 44 75 75 354)" d="M0 0A1 1 0 0 1 1 0"/>
<path class="b" transform="matrix(111 -98 98 111 75 354)" d="M0 0A1 1 0 0 1 1 0"/>
<path class="y" transform="matrix(220 -76 76 220 75 354)" d="M0 0A1 1 0 0 1 1 0"/>
<path class="k" transform="matrix(160 -219 219 160 75 354)" d="M0 0A1 1 0 0 1 1 0"/>
<path class="r" transform="matrix(267 -119 119 267 75 354)" d="M0 0A1 1 0 0 1 1 0"/>
<path class="y" transform="matrix(239 -274 274 239 75 354)" d="M0 0A1 1 0 0 1 1 0"/>
<path class="b" transform="matrix(330 -102 102 330 75 354)" d="M0 0A1 1 0 0 1 1 0"/>
<path class="r" transform="matrix(291 -196 196 291 75 354)" d="M0 0A1 1 0 0 1 1 0"/>
<path class="k" transform="matrix(109 22 -22 109 186 256)" d="M0 0A1 1 0 0 1 1 0"/>
<path class="y" transform="matrix(49 -121 121 49 186 256)" d="M0 0A1 1 0 0 1 1 0"/>
<path class="r" transform="matrix(156 -21 21 156 186 256)" d="M0 0A1 1 0 0 1 1 0"/>
<path class="b" transform="matrix(128 -176 176 128 186 256)" d="M0 0A1 1 0 0 1 1 0"/>
<path class="y" transform="matrix(219 -4 4 219 186 256)" d="M0 0A1 1 0 0 1 1 0"/>
<path class="k" transform="matrix(180 -98 98 180 186 256)" d="M0 0A1 1 0 0 1 1 0"/>
<path class="r" transform="matrix(217 -166 166 217 186 256)" d="M0 0A1 1 0 0 1 1 0"/>
<path class="y" transform="matrix(279 -86 86 279 186 256)" d="M0 0A1 1 0 0 1 1 0"/>
<path class="b" transform="matrix(294 -233 233 294 186 256)" d="M0 0A1 1 0 0 1 1 0"/>
<path class="r" transform="matrix(340 -13 13 340 186 256)" d="M0 0A1 1 0 0 1 1 0"/>
<path class="k" transform="matrix(-28 -155 155 -28 342 235)" d="M0 0A1 1 0 0 1 1 0"/>
<path class="y" transform="matrix(63 17 -17 63 342 235)" d="M0 0A1 1 0 0 1 1 0"/>
<path class="r" transform="matrix(24 -77 77 24 342 235)" d="M0 0A1 1 0 0 1 1 0"/>
<path class="b" transform="matrix(61 -145 145 61 342 235)" d="M0 0A1 1 0 0 1 1 0"/>
<path class="y" transform="matrix(123 -65 65 123 342 235)" d="M0 0A1 1 0 0 1 1 0"/>
<path class="k" transform="matrix(138 -212 212 138 342 235)" d="M0 0A1 1 0 0 1 1 0"/>
<path class="r" transform="matrix(184 8 -8 184 342 235)" d="M0 0A1 1 0 0 1 1 0"/>
<path class="y" transform="matrix(205 -128 128 205 342 235)" d="M0 0A1 1 0 0 1 1 0"/>
<path class="b" transform="matrix(250 -72 72 250 342 235)" d="M0 0A1 1 0 0 1 1 0"/>
<path class="r" transform="matrix(321 -90 90 321 342 235)" d="M0 0A1 1 0 0 1 1 0"/>
<path class="k" transform="matrix(91 172 -172 91 314 80)" d="M0 0A1 1 0 0 1 1 0"/>
<path class="y" transform="matrix(52 78 -78 52 314 80)" d="M0 0A1 1 0 0 1 1 0"/>
<path class="r" transform="matrix(89 10 -10 89 314 80)" d="M0 0A1 1 0 0 1 1 0"/>
<path class="b" transform="matrix(151 90 -90 151 314 80)" d="M0 0A1 1 0 0 1 1 0"/>
<path class="y" transform="matrix(166 -57 57 166 314 80)" d="M0 0A1 1 0 0 1 1 0"/>
<path class="k" transform="matrix(212 163 -163 212 314 80)" d="M0 0A1 1 0 0 1 1 0"/>
<path class="r" transform="matrix(233 27 -27 233 314 80)" d="M0 0A1 1 0 0 1 1 0"/>
<path class="y" transform="matrix(278 83 -83 278 314 80)" d="M0 0A1 1 0 0 1 1 0"/>
<path class="b" transform="matrix(327 -29 29 327 314 80)" d="M0 0A1 1 0 0 1 1 0"/>
<path class="r" transform="matrix(349 65 -65 349 314 80)" d="M0 0A1 1 0 0 1 1 0"/>
<path class="k" transform="matrix(62 80 -80 62 403 90)" d="M0 0A1 1 0 0 1 1 0"/>
<path class="y" transform="matrix(77 -67 67 77 403 90)" d="M0 0A1 1 0 0 1 1 0"/>
<path class="r" transform="matrix(123 153 -153 123 403 90)" d="M0 0A1 1 0 0 1 1 0"/>
<path class="b" transform="matrix(144 17 -17 144 403 90)" d="M0 0A1 1 0 0 1 1 0"/>
<path class="y" transform="matrix(189 73 -73 189 403 90)" d="M0 0A1 1 0 0 1 1 0"/>
<path class="k" transform="matrix(238 -39 39 238 403 90)" d="M0 0A1 1 0 0 1 1 0"/>
<path class="r" transform="matrix(260 55 -55 260 403 90)" d="M0 0A1 1 0 0 1 1 0"/>
<path class="y" transform="matrix(262 157 -157 262 403 90)" d="M0 0A1 1 0 0 1 1 0"/>
<path class="b" transform="matrix(391 30 -30 391 403 90)" d="M0 0A1 1 0 0 1 1 0"/>
<path class="r" transform="matrix(382 128 -128 382 403 90)" d="M0 0A1 1 0 0 1 1 0"/>
<path class="k" transform="matrix(49 -112 112 49 592 163)" d="M0 0A1 1 0 0 1 1 0"/>
<path class="y" transform="matrix(71 -18 18 71 592 163)" d="M0 0A1 1 0 0 1 1 0"/>
<path class="r" transform="matrix(73 84 -84 73 592 163)" d="M0 0A1 1 0 0 1 1 0"/>
<path class="b" transform="matrix(202 -43 43 202 592 163)" d="M0 0A1 1 0 0 1 1 0"/>
<path class="y" transform="matrix(137 99 -99 137 592 163)" d="M0 0A1 1 0 0 1 1 0"/>
<path class="k" transform="matrix(193 55 -55 193 592 163)" d="M0 0A1 1 0 0 1 1 0"/>
<path class="r" transform="matrix(125 201 -201 125 592 163)" d="M0 0A1 1 0 0 1 1 0"/>
<path class="y" transform="matrix(259 145 -145 259 592 163)" d="M0 0A1 1 0 0 1 1 0"/>
<path class="b" transform="matrix(323 122 -122 323 592 163)" d="M0 0A1 1 0 0 1 1 0"/>
<path class="r" transform="matrix(393 170 -170 393 592 163)" d="M0 0A1 1 0 0 1 1 0"/>
<path class="k" transform="matrix(22 94 -94 22 641 51)" d="M0 0A1 1 0 0 1 1 0"/>
<path class="y" transform="matrix(24 196 -196 24 641 51)" d="M0 0A1 1 0 0 1 1 0"/>
<path class="r" transform="matrix(153 69 -69 153 641 51)" d="M0 0A1 1 0 0 1 1 0"/>
<path class="b" transform="matrix(88 211 -211 88 641 51)" d="M0 0A1 1 0 0 1 1 0"/>
<path class="y" transform="matrix(144 167 -167 144 641 51)" d="M0 0A1 1 0 0 1 1 0"/>
<path class="k" transform="matrix(76 313 -313 76 641 51)" d="M0 0A1 1 0 0 1 1 0"/>
<path class="r" transform="matrix(210 257 -257 210 641 51)" d="M0 0A1 1 0 0 1 1 0"/>
<path class="y" transform="matrix(274 234 -234 274 641 51)" d="M0 0A1 1 0 0 1 1 0"/>
<path class="b" transform="matrix(344 282 -282 344 641 51)" d="M0 0A1 1 0 0 1 1 0"/>
<path class="r" transform="matrix(56 -44 44 56 729 262)" d="M0 0A1 1 0 0 1 1 0"/>
<path class="k" transform="matrix(-12 102 -102 -12 729 262)" d="M0 0A1 1 0 0 1 1 0"/>
<path class="y" transform="matrix(122 46 -46 122 729 262)" d="M0 0A1 1 0 0 1 1 0"/>
<path class="r" transform="matrix(186 23 -23 186 729 262)" d="M0 0A1 1 0 0 1 1 0"/>
<path class="b" transform="matrix(256 71 -71 256 729 262)" d="M0 0A1 1 0 0 1 1 0"/>
<path class="y" transform="matrix(144 160 -160 144 729 262)" d="M0 0A1 1 0 0 1 1 0"/>
<path class="k" transform="matrix(283 186 -186 283 729 262)" d="M0 0A1 1 0 0 1 1 0"/>
<path class="r" transform="matrix(117 224 -224 117 729 262)" d="M0 0A1 1 0 0 1 1 0"/>
<path class="y" transform="matrix(208 253 -253 208 729 262)" d="M0 0A1 1 0 0 1 1 0"/>
<path class="b" transform="matrix(-68 146 -146 -68 785 218)" d="M0 0A1 1 0 0 1 1 0"/>
<path class="r" transform="matrix(66 90 -90 66 785 218)" d="M0 0A1 1 0 0 1 1 0"/>
<path class="k" transform="matrix(130 67 -67 130 785 218)" d="M0 0A1 1 0 0 1 1 0"/>
<path class="y" transform="matrix(200 115 -115 200 785 218)" d="M0 0A1 1 0 0 1 1 0"/>
<path class="r" transform="matrix(88 204 -204 88 785 218)" d="M0 0A1 1 0 0 1 1 0"/>
<path class="y" transform="matrix(227 230 -230 227 785 218)" d="M0 0A1 1 0 0 1 1 0"/>
<path class="b" transform="matrix(61 268 -268 61 785 218)" d="M0 0A1 1 0 0 1 1 0"/>
<path class="r" transform="matrix(152 297 -297 152 785 218)" d="M0 0A1 1 0 0 1 1 0"/>
<path class="k" transform="matrix(3 345 -345 3 785 218)" d="M0 0A1 1 0 0 1 1 0"/>
<path class="y" transform="matrix(70 48 -48 70 915 285)" d="M0 0A1 1 0 0 1 1 0"/>
<path class="r" transform="matrix(-42 137 -137 -42 915 285)" d="M0 0A1 1 0 0 1 1 0"/>
<path class="b" transform="matrix(97 163 -163 97 915 285)" d="M0 0A1 1 0 0 1 1 0"/>
<path class="y" transform="matrix(-69 201 -201 -69 915 285)" d="M0 0A1 1 0 0 1 1 0"/>
<path class="k" transform="matrix(22 230 -230 22 915 285)" d="M0 0A1 1 0 0 1 1 0"/>
<path class="r" transform="matrix(-127 278 -278 -127 915 285)" d="M0 0A1 1 0 0 1 1 0"/>
<path class="y" transform="matrix(-6 312 -312 -6 915 285)" d="M0 0A1 1 0 0 1 1 0"/>
<path class="b" transform="matrix(49 375 -375 49 915 285)" d="M0 0A1 1 0 0 1 1 0"/>
<path class="r" transform="matrix(176 97 -97 176 788 563)" d="M0 0A1 1 0 0 1 1 0"/>
<path class="k" transform="matrix(40 170 -170 40 788 563)" d="M0 0A1 1 0 0 1 1 0"/>
<path class="y" transform="matrix(31 312 -312 31 788 563)" d="M0 0A1 1 0 0 1 1 0"/>
<path class="r" transform="matrix(-89 308 -308 -89 788 563)" d="M0 0A1 1 0 0 1 1 0"/>
<path class="b" transform="matrix(55 63 -63 55 909 597)" d="M0 0A1 1 0 0 1 1 0"/>
<path class="y" transform="matrix(-81 136 -136 -81 909 597)" d="M0 0A1 1 0 0 1 1 0"/>
<path class="k" transform="matrix(-90 278 -278 -90 909 597)" d="M0 0A1 1 0 0 1 1 0"/>
<path class="r" transform="matrix(-210 274 -274 -210 909 597)" d="M0 0A1 1 0 0 1 1 0"/>
<path class="y" transform="matrix(-212 363 -363 -212 909 597)" d="M0 0A1 1 0 0 1 1 0"/>
<path class="b" transform="matrix(-130 -5 5 -130 958 738)" d="M0 0A1 1 0 0 1 1 0"/>
<path class="r" transform="matrix(-139 137 -137 -139 958 738)" d="M0 0A1 1 0 0 1 1 0"/>
<path class="k" transform="matrix(-259 133 -133 -259 958 738)" d="M0 0A1 1 0 0 1 1 0"/>
<path class="y" transform="matrix(-261 222 -222 -261 958 738)" d="M0 0A1 1 0 0 1 1 0"/>
<path class="r" transform="matrix(-18 45 -45 -18 846 688)" d="M0 0A1 1 0 0 1 1 0"/>
<path class="b" transform="matrix(-27 187 -187 -27 846 688)" d="M0 0A1 1 0 0 1 1 0"/>
<path class="y" transform="matrix(-147 183 -183 -147 846 688)" d="M0 0A1 1 0 0 1 1 0"/>
<path class="k" transform="matrix(-149 272 -272 -149 846 688)" d="M0 0A1 1 0 0 1 1 0"/>
<path class="r" transform="matrix(-329 187 -187 -329 846 688)" d="M0 0A1 1 0 0 1 1 0"/>
<path class="y" transform="matrix(113 191 -191 113 706 684)" d="M0 0A1 1 0 0 1 1 0"/>
<path class="b" transform="matrix(-7 187 -187 -7 706 684)" d="M0 0A1 1 0 0 1 1 0"/>
<path class="r" transform="matrix(-9 276 -276 -9 706 684)" d="M0 0A1 1 0 0 1 1 0"/>
<path class="k" transform="matrix(-189 191 -191 -189 706 684)" d="M0 0A1 1 0 0 1 1 0"/>
<path class="y" transform="matrix(-367 167 -167 -367 706 684)" d="M0 0A1 1 0 0 1 1 0"/>
<path class="r" transform="matrix(-52 32 -32 -52 871 843)" d="M0 0A1 1 0 0 1 1 0"/>
<path class="y" transform="matrix(-172 28 -28 -172 871 843)" d="M0 0A1 1 0 0 1 1 0"/>
<path class="b" transform="matrix(-174 117 -117 -174 871 843)" d="M0 0A1 1 0 0 1 1 0"/>
<path class="r" transform="matrix(-354 32 -32 -354 871 843)" d="M0 0A1 1 0 0 1 1 0"/>
<path class="k" transform="matrix(-437 145 -145 -437 871 843)" d="M0 0A1 1 0 0 1 1 0"/>
<path class="y" transform="matrix(-35 48 -48 -35 734 823)" d="M0 0A1 1 0 0 1 1 0"/>
<path class="r" transform="matrix(-37 137 -137 -37 734 823)" d="M0 0A1 1 0 0 1 1 0"/>
<path class="b" transform="matrix(-217 52 -52 -217 734 823)" d="M0 0A1 1 0 0 1 1 0"/>
<path class="y" transform="matrix(-300 165 -165 -300 734 823)" d="M0 0A1 1 0 0 1 1 0"/>
<path class="k" transform="matrix(-321 109 -109 -321 734 823)" d="M0 0A1 1 0 0 1 1 0"/>
<path class="r" transform="matrix(-86 99 -99 -86 603 776)" d="M0 0A1 1 0 0 1 1 0"/>
<path class="y" transform="matrix(-169 212 -212 -169 603 776)" d="M0 0A1 1 0 0 1 1 0"/>
<path class="b" transform="matrix(-190 156 -156 -190 603 776)" d="M0 0A1 1 0 0 1 1 0"/>
<path class="r" transform="matrix(-264 75 -75 -264 603 776)" d="M0 0A1 1 0 0 1 1 0"/>
<path class="k" transform="matrix(-383 36 -36 -383 603 776)" d="M0 0A1 1 0 0 1 1 0"/>
<path class="y" transform="matrix(-66 -23 23 -66 583 898)" d="M0 0A1 1 0 0 1 1 0"/>
<path class="r" transform="matrix(-149 90 -90 -149 583 898)" d="M0 0A1 1 0 0 1 1 0"/>
<path class="b" transform="matrix(-170 34 -34 -170 583 898)" d="M0 0A1 1 0 0 1 1 0"/>
<path class="y" transform="matrix(-244 -47 47 -244 583 898)" d="M0 0A1 1 0 0 1 1 0"/>
<path class="k" transform="matrix(-363 -86 86 -363 583 898)" d="M0 0A1 1 0 0 1 1 0"/>
<path class="r" transform="matrix(-45 -145 145 -45 562 1020)" d="M0 0A1 1 0 0 1 1 0"/>
<path class="y" transform="matrix(-128 -32 32 -128 562 1020)" d="M0 0A1 1 0 0 1 1 0"/>
<path class="b" transform="matrix(-149 -88 88 -149 562 1020)" d="M0 0A1 1 0 0 1 1 0"/>
<path class="r" transform="matrix(-223 -169 169 -223 562 1020)" d="M0 0A1 1 0 0 1 1 0"/>
<path class="k" transform="matrix(-342 -208 208 -342 562 1020)" d="M0 0A1 1 0 0 1 1 0"/>
<path class="y" transform="matrix(-40 50 -50 -40 474 938)" d="M0 0A1 1 0 0 1 1 0"/>
<path class="r" transform="matrix(-61 -6 6 -61 474 938)" d="M0 0A1 1 0 0 1 1 0"/>
<path class="b" transform="matrix(-135 -87 87 -135 474 938)" d="M0 0A1 1 0 0 1 1 0"/>
<path class="y" transform="matrix(-254 -126 126 -254 474 938)" d="M0 0A1 1 0 0 1 1 0"/>
<path class="k" transform="matrix(-269 -243 243 -269 474 938)" d="M0 0A1 1 0 0 1 1 0"/>
<path class="r" transform="matrix(-42 199 -199 -42 476 789)" d="M0 0A1 1 0 0 1 1 0"/>
<path class="y" transform="matrix(-63 143 -143 -63 476 789)" d="M0 0A1 1 0 0 1 1 0"/>
<path class="b" transform="matrix(-137 62 -62 -137 476 789)" d="M0 0A1 1 0 0 1 1 0"/>
<path class="r" transform="matrix(-256 23 -23 -256 476 789)" d="M0 0A1 1 0 0 1 1 0"/>
<path class="k" transform="matrix(-271 -94 94 -271 476 789)" d="M0 0A1 1 0 0 1 1 0"/>
<path class="y" transform="matrix(4 -139 139 4 335 990)" d="M0 0A1 1 0 0 1 1 0"/>
<path class="r" transform="matrix(-115 -178 178 -115 335 990)" d="M0 0A1 1 0 0 1 1 0"/>
<path class="b" transform="matrix(-130 -295 295 -130 335 990)" d="M0 0A1 1 0 0 1 1 0"/>
<path class="y" transform="matrix(-224 -418 418 -224 335 990)" d="M0 0A1 1 0 0 1 1 0"/>
<path class="k" transform="matrix(-87 -65 65 -87 307 877)" d="M0 0A1 1 0 0 1 1 0"/>
<path class="r" transform="matrix(-102 -182 182 -102 307 877)" d="M0 0A1 1 0 0 1 1 0"/>
<path class="y" transform="matrix(-196 -305 305 -196 307 877)" d="M0 0A1 1 0 0 1 1 0"/>
<path class="b" transform="matrix(-77 -352 352 -77 307 877)" d="M0 0A1 1 0 0 1 1 0"/>
<path class="r" transform="matrix(15 -98 98 15 205 910)" d="M0 0A1 1 0 0 1 1 0"/>
<path class="k" transform="matrix(0 -215 215 0 205 910)" d="M0 0A1 1 0 0 1 1 0"/>
<path class="y" transform="matrix(-94 -338 338 -94 205 910)" d="M0 0A1 1 0 0 1 1 0"/>
<path class="r" transform="matrix(25 -385 385 25 205 910)" d="M0 0A1 1 0 0 1 1 0"/>
<path class="b" transform="matrix(-132 89 -89 -132 352 723)" d="M0 0A1 1 0 0 1 1 0"/>
<path class="y" transform="matrix(-147 -28 28 -147 352 723)" d="M0 0A1 1 0 0 1 1 0"/>
<path class="k" transform="matrix(-241 -151 151 -241 352 723)" d="M0 0A1 1 0 0 1 1 0"/>
<path class="r" transform="matrix(-122 -198 198 -122 352 723)" d="M0 0A1 1 0 0 1 1 0"/>
<path class="y" transform="matrix(68 -142 142 68 137 837)" d="M0 0A1 1 0 0 1 1 0"/>
<path class="b" transform="matrix(-26 -265 265 -26 137 837)" d="M0 0A1 1 0 0 1 1 0"/>
<path class="r" transform="matrix(93 -312 312 93 137 837)" d="M0 0A1 1 0 0 1 1 0"/>
<path class="k" transform="matrix(35 -437 437 35 137 837)" d="M0 0A1 1 0 0 1 1 0"/>
<path class="y" transform="matrix(-84 33 -33 -84 289 662)" d="M0 0A1 1 0 0 1 1 0"/>
<path class="r" transform="matrix(-178 -90 90 -178 289 662)" d="M0 0A1 1 0 0 1 1 0"/>
<path class="b" transform="matrix(-59 -137 137 -59 289 662)" d="M0 0A1 1 0 0 1 1 0"/>
<path class="y" transform="matrix(-214 -308 308 -214 289 662)" d="M0 0A1 1 0 0 1 1 0"/>
<path class="k" transform="matrix(45 -170 170 45 66 742)" d="M0 0A1 1 0 0 1 1 0"/>
<path class="r" transform="matrix(164 -217 217 164 66 742)" d="M0 0A1 1 0 0 1 1 0"/>
<path class="y" transform="matrix(9 -388 388 9 66 742)" d="M0 0A1 1 0 0 1 1 0"/>
<path class="b" transform="matrix(226 -349 349 226 66 742)" d="M0 0A1 1 0 0 1 1 0"/>
<path class="r" transform="matrix(-87 -32 32 -87 198 604)" d="M0 0A1 1 0 0 1 1 0"/>
<path class="k" transform="matrix(32 -79 79 32 198 604)" d="M0 0A1 1 0 0 1 1 0"/>
<path class="y" transform="matrix(-123 -250 250 -123 198 604)" d="M0 0A1 1 0 0 1 1 0"/>
<path class="r" transform="matrix(-12 -348 348 -12 198 604)" d="M0 0A1 1 0 0 1 1 0"/>
<path class="b" transform="matrix(91 -61 61 91 20 633)" d="M0 0A1 1 0 0 1 1 0"/>
<path class="y" transform="matrix(210 -108 108 210 20 633)" d="M0 0A1 1 0 0 1 1 0"/>
<path class="k" transform="matrix(55 -279 279 55 20 633)" d="M0 0A1 1 0 0 1 1 0"/>
<path class="r" transform="matrix(166 -377 377 166 20 633)" d="M0 0A1 1 0 0 1 1 0"/>
<path class="y" transform="matrix(275 -355 355 275 20 633)" d="M0 0A1 1 0 0 1 1 0"/>
<path class="b" transform="matrix(-71 -140 140 -71 146 494)" d="M0 0A1 1 0 0 1 1 0"/>
<path class="r" transform="matrix(40 -238 238 40 146 494)" d="M0 0A1 1 0 0 1 1 0"/>
<path class="k" transform="matrix(196 -259 259 196 146 494)" d="M0 0A1 1 0 0 1 1 0"/>
<path class="y" transform="matrix(168 -414 414 168 146 494)" d="M0 0A1 1 0 0 1 1 0"/>
<path class="r" transform="matrix(-33 -116 116 -33 108 470)" d="M0 0A1 1 0 0 1 1 0"/>
<path class="b" transform="matrix(78 -214 214 78 108 470)" d="M0 0A1 1 0 0 1 1 0"/>
<path class="y" transform="matrix(234 -235 235 234 108 470)" d="M0 0A1 1 0 0 1 1 0"/>
<path class="k" transform="matrix(258 -312 312 258 108 470)" d="M0 0A1 1 0 0 1 1 0"/>
<path class="r" transform="matrix(35 -66 66 35 40 420)" d="M0 0A1 1 0 0 1 1 0"/>
<path class="y" transform="matrix(146 -164 164 146 40 420)" d="M0 0A1 1 0 0 1 1 0"/>
<path class="b" transform="matrix(302 -185 185 302 40 420)" d="M0 0A1 1 0 0 1 1 0"/>
<path class="r" transform="matrix(274 -340 340 274 40 420)" d="M0 0A1 1 0 0 1 1 0"/>
<path class="k" transform="matrix(-97 -46 46 -97 172 400)" d="M0 0A1 1 0 0 1 1 0"/>
<path class="y" transform="matrix(14 -144 144 14 172 400)" d="M0 0A1 1 0 0 1 1 0"/>
<path class="r" transform="matrix(170 -165 165 170 172 400)" d="M0 0A1 1 0 0 1 1 0"/>
<path class="b" transform="matrix(142 -320 320 142 172 400)" d="M0 0A1 1 0 0 1 1 0"/>
<path class="y" transform="matrix(231 -310 310 231 172 400)" d="M0 0A1 1 0 0 1 1 0"/>
<path class="r" transform="matrix(-106 -137 137 -106 292 393)" d="M0 0A1 1 0 0 1 1 0"/>
<path class="k" transform="matrix(50 -158 158 50 292 393)" d="M0 0A1 1 0 0 1 1 0"/>
<path class="y" transform="matrix(22 -313 313 22 292 393)" d="M0 0A1 1 0 0 1 1 0"/>
<path class="r" transform="matrix(111 -303 303 111 292 393)" d="M0 0A1 1 0 0 1 1 0"/>
<path class="b" transform="matrix(36 -54 54 36 150 310)" d="M0 0A1 1 0 0 1 1 0"/>
<path class="y" transform="matrix(192 -75 75 192 150 310)" d="M0 0A1 1 0 0 1 1 0"/>
<path class="k" transform="matrix(164 -230 230 164 150 310)" d="M0 0A1 1 0 0 1 1 0"/>
<path class="r" transform="matrix(253 -220 220 253 150 310)" d="M0 0A1 1 0 0 1 1 0"/>
<path class="y" transform="matrix(397 -203 203 397 150 310)" d="M0 0A1 1 0 0 1 1 0"/>
<path class="b" transform="matrix(47 -43 43 47 295 278)" d="M0 0A1 1 0 0 1 1 0"/>
<path class="r" transform="matrix(19 -198 198 19 295 278)" d="M0 0A1 1 0 0 1 1 0"/>
<path class="k" transform="matrix(108 -188 188 108 295 278)" d="M0 0A1 1 0 0 1 1 0"/>
<path class="y" transform="matrix(297 -115 115 297 295 278)" d="M0 0A1 1 0 0 1 1 0"/>
<path class="r" transform="matrix(346 -227 227 346 295 278)" d="M0 0A1 1 0 0 1 1 0"/>
<path class="y" transform="matrix(107 100 -100 107 235 135)" d="M0 0A1 1 0 0 1 1 0"/>
<path class="b" transform="matrix(79 -55 55 79 235 135)" d="M0 0A1 1 0 0 1 1 0"/>
<path class="r" transform="matrix(168 -45 45 168 235 135)" d="M0 0A1 1 0 0 1 1 0"/>
<path class="k" transform="matrix(357 28 -28 357 235 135)" d="M0 0A1 1 0 0 1 1 0"/>
<path class="y" transform="matrix(406 -84 84 406 235 135)" d="M0 0A1 1 0 0 1 1 0"/>
<path class="r" transform="matrix(-2 -162 162 -2 405 252)" d="M0 0A1 1 0 0 1 1 0"/>
<path class="y" transform="matrix(187 -89 89 187 405 252)" d="M0 0A1 1 0 0 1 1 0"/>
<path class="b" transform="matrix(236 -201 201 236 405 252)" d="M0 0A1 1 0 0 1 1 0"/>
<path class="r" transform="matrix(324 10 -10 324 405 252)" d="M0 0A1 1 0 0 1 1 0"/>
<path class="k" transform="matrix(37 -68 68 37 366 158)" d="M0 0A1 1 0 0 1 1 0"/>
<path class="y" transform="matrix(226 5 -5 226 366 158)" d="M0 0A1 1 0 0 1 1 0"/>
<path class="r" transform="matrix(275 -107 107 275 366 158)" d="M0 0A1 1 0 0 1 1 0"/>
<path class="b" transform="matrix(363 104 -104 363 366 158)" d="M0 0A1 1 0 0 1 1 0"/>
<path class="r" transform="matrix(419 60 -60 419 366 158)" d="M0 0A1 1 0 0 1 1 0"/>
<path class="k" transform="matrix(127 -7 7 127 465 170)" d="M0 0A1 1 0 0 1 1 0"/>
<path class="y" transform="matrix(176 -119 119 176 465 170)" d="M0 0A1 1 0 0 1 1 0"/>
<path class="r" transform="matrix(264 92 -92 264 465 170)" d="M0 0A1 1 0 0 1 1 0"/>
<path class="y" transform="matrix(320 48 -48 320 465 170)" d="M0 0A1 1 0 0 1 1 0"/>
<path class="b" transform="matrix(450 115 -115 450 465 170)" d="M0 0A1 1 0 0 1 1 0"/>
<path class="r" transform="matrix(112 140 -140 112 480 23)" d="M0 0A1 1 0 0 1 1 0"/>
<path class="k" transform="matrix(161 28 -28 161 480 23)" d="M0 0A1 1 0 0 1 1 0"/>
<path class="y" transform="matrix(249 239 -239 249 480 23)" d="M0 0A1 1 0 0 1 1 0"/>
<path class="r" transform="matrix(305 195 -195 305 480 23)" d="M0 0A1 1 0 0 1 1 0"/>
<path class="y" transform="matrix(505 310 -310 505 480 23)" d="M0 0A1 1 0 0 1 1 0"/>
<path class="b" transform="matrix(66 -80 80 66 526 243)" d="M0 0A1 1 0 0 1 1 0"/>
<path class="r" transform="matrix(115 -192 192 115 526 243)" d="M0 0A1 1 0 0 1 1 0"/>
<path class="k" transform="matrix(203 19 -19 203 526 243)" d="M0 0A1 1 0 0 1 1 0"/>
<path class="y" transform="matrix(259 -25 25 259 526 243)" d="M0 0A1 1 0 0 1 1 0"/>
<path class="r" transform="matrix(389 42 -42 389 526 243)" d="M0 0A1 1 0 0 1 1 0"/>
<path class="y" transform="matrix(45 56 -56 45 547 107)" d="M0 0A1 1 0 0 1 1 0"/>
<path class="b" transform="matrix(94 -56 56 94 547 107)" d="M0 0A1 1 0 0 1 1 0"/>
<path class="r" transform="matrix(182 155 -155 182 547 107)" d="M0 0A1 1 0 0 1 1 0"/>
<path class="k" transform="matrix(238 111 -111 238 547 107)" d="M0 0A1 1 0 0 1 1 0"/>
<path class="y" transform="matrix(368 178 -178 368 547 107)" d="M0 0A1 1 0 0 1 1 0"/>
<path class="r" transform="matrix(326 315 -315 326 547 107)" d="M0 0A1 1 0 0 1 1 0"/>
<path class="y" transform="matrix(66 117 -117 66 663 145)" d="M0 0A1 1 0 0 1 1 0"/>
<path class="b" transform="matrix(122 73 -73 122 663 145)" d="M0 0A1 1 0 0 1 1 0"/>
<path class="r" transform="matrix(252 140 -140 252 663 145)" d="M0 0A1 1 0 0 1 1 0"/>
<path class="k" transform="matrix(183 341 -341 183 663 145)" d="M0 0A1 1 0 0 1 1 0"/>
<path class="y" transform="matrix(64 15 -15 64 665 247)" d="M0 0A1 1 0 0 1 1 0"/>
<path class="r" transform="matrix(120 -29 29 120 665 247)" d="M0 0A1 1 0 0 1 1 0"/>
<path class="y" transform="matrix(250 38 -38 250 665 247)" d="M0 0A1 1 0 0 1 1 0"/>
<path class="b" transform="matrix(181 239 -239 181 665 247)" d="M0 0A1 1 0 0 1 1 0"/>
<path class="r" transform="matrix(272 268 -268 272 665 247)" d="M0 0A1 1 0 0 1 1 0"/>
<path class="k" transform="matrix(-9 98 -98 -9 794 120)" d="M0 0A1 1 0 0 1 1 0"/>
<path class="y" transform="matrix(121 165 -165 121 794 120)" d="M0 0A1 1 0 0 1 1 0"/>
<path class="r" transform="matrix(52 366 -366 52 794 120)" d="M0 0A1 1 0 0 1 1 0"/>
<path class="y" transform="matrix(143 395 -395 143 794 120)" d="M0 0A1 1 0 0 1 1 0"/>
<path class="b" transform="matrix(115 477 -477 115 794 120)" d="M0 0A1 1 0 0 1 1 0"/>
<path class="r" transform="matrix(198 -79 79 198 717 364)" d="M0 0A1 1 0 0 1 1 0"/>
<path class="k" transform="matrix(129 122 -122 129 717 364)" d="M0 0A1 1 0 0 1 1 0"/>
<path class="y" transform="matrix(220 151 -151 220 717 364)" d="M0 0A1 1 0 0 1 1 0"/>
<path class="r" transform="matrix(247 296 -296 247 717 364)" d="M0 0A1 1 0 0 1 1 0"/>
<path class="b" transform="matrix(64 -23 23 64 851 308)" d="M0 0A1 1 0 0 1 1 0"/>
<path class="y" transform="matrix(-5 178 -178 -5 851 308)" d="M0 0A1 1 0 0 1 1 0"/>
<path class="r" transform="matrix(86 207 -207 86 851 308)" d="M0 0A1 1 0 0 1 1 0"/>
<path class="k" transform="matrix(113 352 -352 113 851 308)" d="M0 0A1 1 0 0 1 1 0"/>
<path class="y" transform="matrix(-145 376 -376 -145 851 308)" d="M0 0A1 1 0 0 1 1 0"/>
<path class="r" transform="matrix(-139 153 -153 -139 985 333)" d="M0 0A1 1 0 0 1 1 0"/>
<path class="b" transform="matrix(-48 182 -182 -48 985 333)" d="M0 0A1 1 0 0 1 1 0"/>
<path class="y" transform="matrix(-21 327 -327 -21 985 333)" d="M0 0A1 1 0 0 1 1 0"/>
<path class="k" transform="matrix(-157 400 -400 -157 985 333)" d="M0 0A1 1 0 0 1 1 0"/>
<path class="r" transform="matrix(-27 64 -64 -27 873 422)" d="M0 0A1 1 0 0 1 1 0"/>
<path class="y" transform="matrix(64 93 -93 64 873 422)" d="M0 0A1 1 0 0 1 1 0"/>
<path class="b" transform="matrix(91 238 -238 91 873 422)" d="M0 0A1 1 0 0 1 1 0"/>
<path class="r" transform="matrix(-45 311 -311 -45 873 422)" d="M0 0A1 1 0 0 1 1 0"/>
<path class="k" transform="matrix(-166 38 -38 -166 1012 448)" d="M0 0A1 1 0 0 1 1 0"/>
<path class="y" transform="matrix(-75 67 -67 -75 1012 448)" d="M0 0A1 1 0 0 1 1 0"/>
<path class="r" transform="matrix(-48 212 -212 -48 1012 448)" d="M0 0A1 1 0 0 1 1 0"/>
<path class="b" transform="matrix(-184 285 -285 -184 1012 448)" d="M0 0A1 1 0 0 1 1 0"/>
<path class="y" transform="matrix(-193 427 -427 -193 1012 448)" d="M0 0A1 1 0 0 1 1 0"/>
<path class="y" transform="matrix(43 453 -453 43 915 285)" d="M0 0A1 1 0 0 1 1 0"/>
<path class="r" transform="matrix(170 540 -540 170 794 120)" d="M0 0A1 1 0 0 1 1 0"/>
<path class="b" transform="matrix(480 40 -40 480 314 80)" d="M0 0A1 1 0 0 1 1 0"/>
<path class="y" transform="matrix(328 -264 264 328 75 354)" d="M0 0A1 1 0 0 1 1 0"/>
<path class="k" transform="matrix(-542 -387 387 -542 562 1020)" d="M0 0A1 1 0 0 1 1 0"/>
<path class="r" transform="matrix(-631 -218 218 -631 697 960)" d="M0 0A1 1 0 0 1 1 0"/>
<path class="y" transform="matrix(-524 250 -250 -524 958 738)" d="M0 0A1 1 0 0 1 1 0"/>
<path class="b" transform="matrix(-402 360 -360 -402 964 660)" d="M0 0A1 1 0 0 1 1 0"/>
<path class="r" transform="matrix(-240 445 -445 -240 937 515)" d="M0 0A1 1 0 0 1 1 0"/>
<path class="k" transform="matrix(-114 510 -510 -114 985 333)" d="M0 0A1 1 0 0 1 1 0"/>
<path class="y" transform="matrix(-87 448 -448 -87 915 285)" d="M0 0A1 1 0 0 1 1 0"/>
<path class="r" transform="matrix(124 379 -379 124 785 218)" d="M0 0A1 1 0 0 1 1 0"/>
<path class="b" transform="matrix(435 262 -262 435 480 23)" d="M0 0A1 1 0 0 1 1 0"/>
<path class="y" transform="matrix(448 218 -218 448 403 90)" d="M0 0A1 1 0 0 1 1 0"/>
<path class="k" transform="matrix(559 -15 15 559 235 135)" d="M0 0A1 1 0 0 1 1 0"/>
<path class="r" transform="matrix(405 -331 331 405 75 354)" d="M0 0A1 1 0 0 1 1 0"/>
<path class="y" transform="matrix(363 -330 330 363 40 420)" d="M0 0A1 1 0 0 1 1 0"/>
<path class="b" transform="matrix(294 -553 553 294 20 633)" d="M0 0A1 1 0 0 1 1 0"/>
<path class="r" transform="matrix(169 -607 607 169 66 742)" d="M0 0A1 1 0 0 1 1 0"/>
<path class="k" transform="matrix(-180 -392 392 -180 220 812)" d="M0 0A1 1 0 0 1 1 0"/>
<path class="y" transform="matrix(-62 -483 483 -62 137 837)" d="M0 0A1 1 0 0 1 1 0"/>
<path class="r" transform="matrix(-414 -355 355 -414 434 988)" d="M0 0A1 1 0 0 1 1 0"/>
<path class="b" transform="matrix(-517 -156 156 -517 583 898)" d="M0 0A1 1 0 0 1 1 0"/>
<path class="y" transform="matrix(-512 2 -2 -512 819 875)" d="M0 0A1 1 0 0 1 1 0"/>
<path class="k" transform="matrix(-536 147 -147 -536 871 843)" d="M0 0A1 1 0 0 1 1 0"/>
<path class="r" transform="matrix(-435 341 -341 -435 909 597)" d="M0 0A1 1 0 0 1 1 0"/>
<path class="y" transform="matrix(-278 375 -375 -278 1012 448)" d="M0 0A1 1 0 0 1 1 0"/>
<path class="b" transform="matrix(-174 449 -449 -174 873 422)" d="M0 0A1 1 0 0 1 1 0"/>
<path class="r" transform="matrix(-147 385 -385 -147 846 486)" d="M0 0A1 1 0 0 1 1 0"/>
<path class="k" transform="matrix(154 479 -479 154 717 364)" d="M0 0A1 1 0 0 1 1 0"/>
<path class="y" transform="matrix(244 350 -350 244 665 247)" d="M0 0A1 1 0 0 1 1 0"/>
<path class="r" transform="matrix(274 370 -370 274 663 145)" d="M0 0A1 1 0 0 1 1 0"/>
<path class="b" transform="matrix(465 341 -341 465 547 107)" d="M0 0A1 1 0 0 1 1 0"/>
<path class="y" transform="matrix(281 259 -259 281 592 163)" d="M0 0A1 1 0 0 1 1 0"/>
<path class="k" transform="matrix(520 163 -163 520 465 170)" d="M0 0A1 1 0 0 1 1 0"/>
<path class="r" transform="matrix(485 150 -150 485 366 158)" d="M0 0A1 1 0 0 1 1 0"/>
<path class="y" transform="matrix(380 -34 34 380 405 252)" d="M0 0A1 1 0 0 1 1 0"/>
<path class="b" transform="matrix(499 -158 158 499 295 278)" d="M0 0A1 1 0 0 1 1 0"/>
<path class="r" transform="matrix(452 -115 115 452 342 235)" d="M0 0A1 1 0 0 1 1 0"/>
<path class="k" transform="matrix(477 -111 111 477 186 256)" d="M0 0A1 1 0 0 1 1 0"/>
<path class="y" transform="matrix(371 -248 248 371 292 393)" d="M0 0A1 1 0 0 1 1 0"/>
<path class="r" transform="matrix(375 -293 293 375 172 400)" d="M0 0A1 1 0 0 1 1 0"/>
<path class="b" transform="matrix(319 -324 324 319 146 494)" d="M0 0A1 1 0 0 1 1 0"/>
<path class="y" transform="matrix(175 -273 273 175 230 525)" d="M0 0A1 1 0 0 1 1 0"/>
<path class="k" transform="matrix(207 -352 352 207 198 604)" d="M0 0A1 1 0 0 1 1 0"/>
<path class="r" transform="matrix(-103 -406 406 -103 289 662)" d="M0 0A1 1 0 0 1 1 0"/>
<path class="y" transform="matrix(-312 -303 303 -312 352 723)" d="M0 0A1 1 0 0 1 1 0"/>
<path class="b" transform="matrix(-365 -217 217 -365 476 789)" d="M0 0A1 1 0 0 1 1 0"/>
<path class="r" transform="matrix(-537 -34 34 -537 603 776)" d="M0 0A1 1 0 0 1 1 0"/>
<path class="k" transform="matrix(-569 153 -153 -569 706 684)" d="M0 0A1 1 0 0 1 1 0"/>
<path class="y" transform="matrix(-271 312 -312 -271 788 563)" d="M0 0A1 1 0 0 1 1 0"/>
<path class="r" transform="matrix(-493 257 -257 -493 828 733)" d="M0 0A1 1 0 0 1 1 0"/>
<path class="b" transform="matrix(-511 302 -302 -511 846 688)" d="M0 0A1 1 0 0 1 1 0"/>
</g>
<g id="nodes" class="n">
<g id="nA"><circle cx="788" cy="563" r="1.2"/></g>
<g id="nB"><circle cx="909" cy="597" r="1.2"/></g>
<g id="nD"><circle cx="958" cy="738" r="1.2"/></g>
<g id="nC"><circle cx="846" cy="688" r="1.2"/></g>
<g id="nE"><circle cx="706" cy="684" r="1.2"/></g>
<g id="nF2"><circle cx="871" cy="843" r="1.2"/></g>
<g id="nF"><circle cx="734" cy="823" r="1.2"/></g>
<g id="nG"><circle cx="603" cy="776" r="1.2"/></g>
<g id="nH"><circle cx="583" cy="898" r="1.2"/></g>
<g id="nI"><circle cx="562" cy="1020" r="1.2"/></g>
<g id="nJ"><circle cx="474" cy="938" r="1.2"/></g>
<g id="nK"><circle cx="476" cy="789" r="1.2"/></g>
<g id="nL"><circle cx="335" cy="990" r="1.2"/></g>
<g id="nM"><circle cx="307" cy="877" r="1.2"/></g>
<g id="nN"><circle cx="205" cy="910" r="1.2"/></g>
<g id="nO"><circle cx="352" cy="723" r="1.2"/></g>
<g id="nP"><circle cx="137" cy="837" r="1.2"/></g>
<g id="nQ"><circle cx="289" cy="662" r="1.2"/></g>
<g id="nR"><circle cx="66" cy="742" r="1.2"/></g>
<g id="nS"><circle cx="198" cy="604" r="1.2"/></g>
<g id="nT"><circle cx="20" cy="633" r="1.2"/></g>
<g id="nU"><circle cx="146" cy="494" r="1.2"/></g>
<g id="nV"><circle cx="108" cy="470" r="1.2"/></g>
<g id="nW"><circle cx="40" cy="420" r="1.2"/></g>
<g id="nX"><circle cx="172" cy="400" r="1.2"/></g>
<g id="nY"><circle cx="292" cy="393" r="1.2"/></g>
<g id="nZ"><circle cx="150" cy="310" r="1.2"/></g>
<g id="na"><circle cx="295" cy="278" r="1.2"/></g>
<g id="nb"><circle cx="235" cy="135" r="1.2"/></g>
<g id="nc"><circle cx="405" cy="252" r="1.2"/></g>
<g id="nd"><circle cx="366" cy="158" r="1.2"/></g>
<g id="ne"><circle cx="465" cy="170" r="1.2"/></g>
<g id="nf"><circle cx="480" cy="23" r="1.2"/></g>
<g id="ng"><circle cx="526" cy="243" r="1.2"/></g>
<g id="nh"><circle cx="547" cy="107" r="1.2"/></g>
<g id="ni"><circle cx="663" cy="145" r="1.2"/></g>
<g id="nj"><circle cx="665" cy="247" r="1.2"/></g>
<g id="nk"><circle cx="794" cy="120" r="1.2"/></g>
<g id="nl"><circle cx="717" cy="364" r="1.2"/></g>
<g id="nm"><circle cx="851" cy="308" r="1.2"/></g>
<g id="nn"><circle cx="985" cy="333" r="1.2"/></g>
<g id="no"><circle cx="873" cy="422" r="1.2"/></g>
<g id="np"><circle cx="1012" cy="448" r="1.2"/></g>
<g id="nN1"><circle cx="937" cy="515" r="1.2"/></g>
<g id="nN22"><circle cx="846" cy="486" r="1.2"/></g>
<g id="nN2"><circle cx="964" cy="660" r="1.2"/></g>
<g id="nN3"><circle cx="828" cy="733" r="1.2"/></g>
<g id="nN4"><circle cx="819" cy="875" r="1.2"/></g>
<g id="nN5"><circle cx="699" cy="871" r="1.2"/></g>
<g id="nN6"><circle cx="697" cy="960" r="1.2"/></g>
<g id="nN7"><circle cx="517" cy="875" r="1.2"/></g>
<g id="nN28"><circle cx="434" cy="988" r="1.2"/></g>
<g id="nN8"><circle cx="413" cy="932" r="1.2"/></g>
<g id="nN9"><circle cx="339" cy="851" r="1.2"/></g>
<g id="nN10"><circle cx="220" cy="812" r="1.2"/></g>
<g id="nN11"><circle cx="205" cy="695" r="1.2"/></g>
<g id="nN12"><circle cx="111" cy="572" r="1.2"/></g>
<g id="nN13"><circle cx="230" cy="525" r="1.2"/></g>
<g id="nN24"><circle cx="75" cy="354" r="1.2"/></g>
<g id="nN14"><circle cx="186" cy="256" r="1.2"/></g>
<g id="nN15"><circle cx="342" cy="235" r="1.2"/></g>
<g id="nN25"><circle cx="314" cy="80" r="1.2"/></g>
<g id="nN16"><circle cx="403" cy="90" r="1.2"/></g>
<g id="nN17"><circle cx="592" cy="163" r="1.2"/></g>
<g id="nN18"><circle cx="641" cy="51" r="1.2"/></g>
<g id="nN21"><circle cx="729" cy="262" r="1.2"/></g>
<g id="nN19"><circle cx="785" cy="218" r="1.2"/></g>
<g id="nN20"><circle cx="915" cy="285" r="1.2"/></g>
</g>
</svg>
